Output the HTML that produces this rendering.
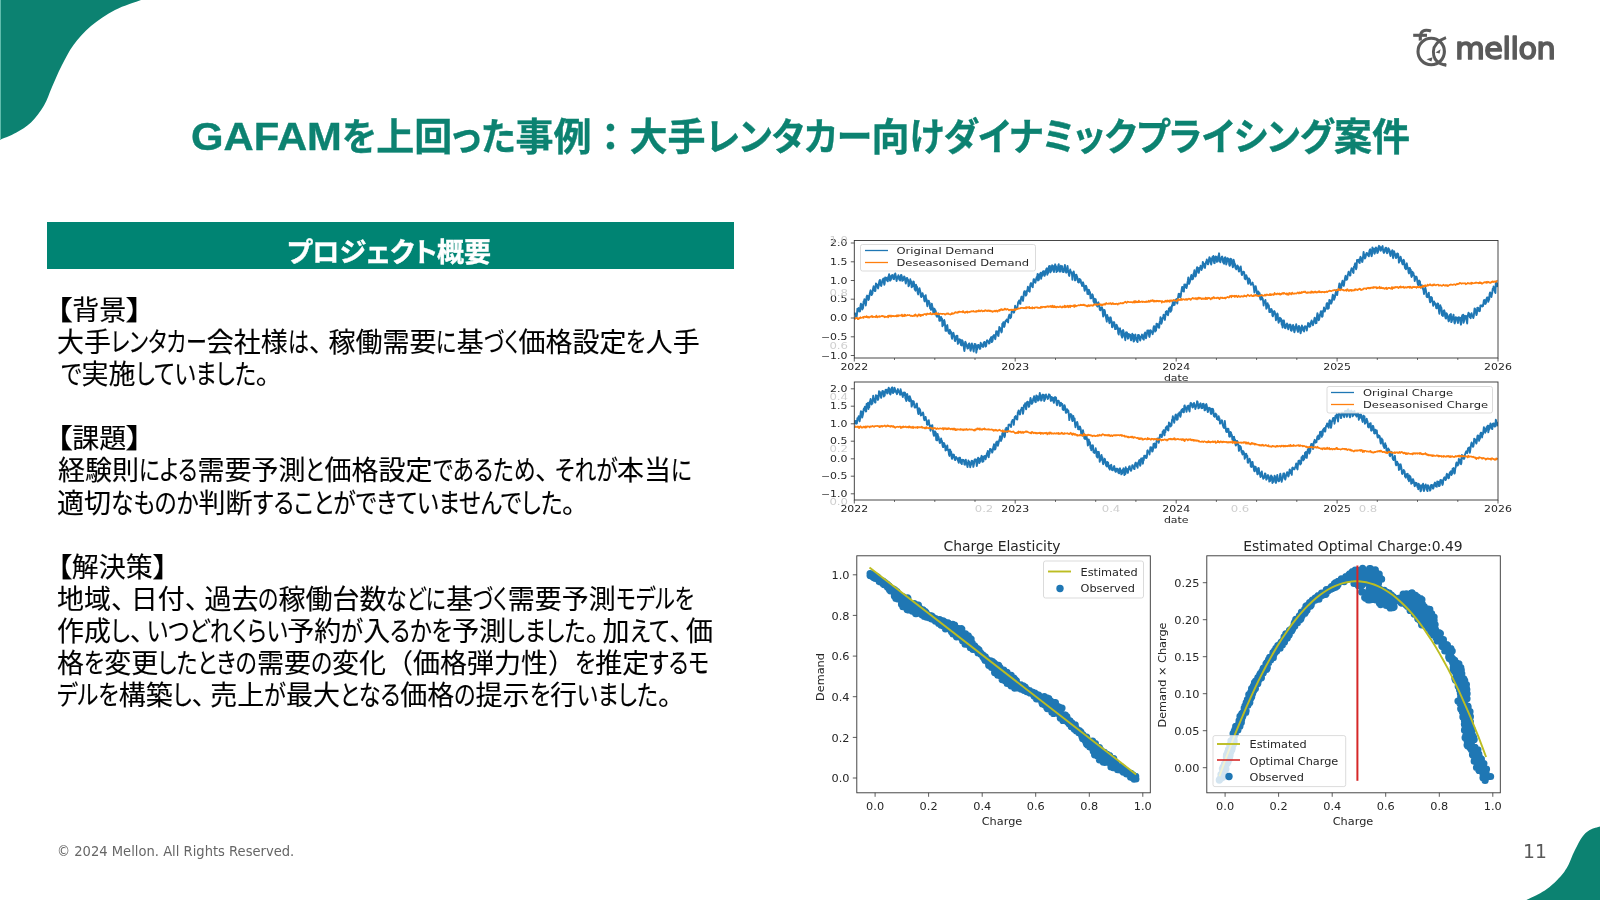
<!DOCTYPE html>
<html lang="ja">
<head>
<meta charset="utf-8">
<title>GAFAMを上回った事例</title>
<style>
html,body{margin:0;padding:0;}
body{width:1600px;height:900px;overflow:hidden;background:#fff;position:relative;
  font-family:"Liberation Sans","Noto Sans CJK JP",sans-serif;}
.abs{position:absolute;}
#root{position:absolute;left:0;top:0;width:1600px;height:900px;will-change:transform;}
#charts{filter:blur(0.35px);}
#bar{position:absolute;left:46.8px;top:221.5px;width:687px;height:47.7px;background:#008473;}
.ln{position:absolute;white-space:nowrap;font-size:26.7px;line-height:32px;height:32px;color:#000;
  font-family:"Liberation Sans","Noto Sans CJK JP",sans-serif;font-feature-settings:"palt" 1;}
#foot{position:absolute;left:56.8px;top:841.3px;font-family:"DejaVu Sans","Liberation Sans",sans-serif;
  font-size:14.3px;line-height:20px;color:#666;white-space:nowrap;transform:scaleX(0.917);transform-origin:0 50%;}
#pg{position:absolute;left:1522.6px;top:838.6px;font-family:"DejaVu Sans","Liberation Sans",sans-serif;
  font-size:19.9px;line-height:26px;color:#595959;white-space:nowrap;transform:scaleX(0.943);transform-origin:0 50%;}
svg text{font-family:"DejaVu Sans","Liberation Sans",sans-serif;}

.tl{position:absolute;white-space:nowrap;font-family:"Liberation Sans","Noto Sans CJK JP",sans-serif;}
.rA{font-feature-settings:"palt" 1;}
.rK,.rL,.rP{font-feature-settings:"palt" 0;}
.rb{display:inline-block;white-space:nowrap;}
.ri{display:inline-block;transform-origin:0 50%;white-space:nowrap;}

</style>
</head>
<body>
<div id="root">
<svg class="abs" style="left:0;top:0" width="160" height="150" viewBox="0 0 160 150">
  <path d="M0,0 H141 C136.7,1.7 123.3,5.7 115.0,10.0 C106.7,14.3 97.9,20.2 91.0,26.0 C84.1,31.8 78.4,38.3 73.5,45.0 C68.6,51.7 65.1,59.0 61.5,66.0 C57.9,73.0 54.9,80.4 52.0,87.0 C49.1,93.6 47.5,99.6 44.0,105.5 C40.5,111.4 35.7,118.0 31.0,122.5 C26.3,127.0 21.2,129.9 16.0,132.8 C10.8,135.7 2.7,138.6 0.0,139.8 Z" fill="#0c8271"/>
  <rect x="0" y="0" width="1" height="139.5" fill="#5fbcac"/>
</svg>
<svg class="abs" style="left:1500px;top:810px" width="100" height="90" viewBox="1500 810 100 90">
  <path d="M1600,900 V826.6 C1598.3,827.2 1592.7,828.4 1589.7,830.1 C1586.7,831.8 1584.2,834.4 1582.2,836.9 C1580.2,839.4 1579.0,842.2 1577.4,845.2 C1575.8,848.2 1574.1,851.6 1572.7,854.7 C1571.3,857.9 1570.3,861.2 1568.9,864.1 C1567.5,867.0 1566.2,869.2 1564.2,871.9 C1562.2,874.6 1559.5,877.6 1556.7,880.4 C1553.9,883.2 1550.4,886.4 1547.2,888.7 C1544.0,891.1 1541.2,892.6 1537.8,894.5 C1534.3,896.4 1528.4,899.1 1526.5,900.0 Z" fill="#0c8271"/>
</svg>

<!-- logo -->
<svg class="abs" style="left:1400px;top:20px" width="180" height="60" viewBox="1400 20 180 60">
  <g fill="none" stroke="#5a5a5a" stroke-width="3.1" stroke-linecap="butt">
    <circle cx="1431.2" cy="51.5" r="13.2"/>
    <path d="M1413.2,35.3 H1427"/>
    <path d="M1420.3,40.5 C1419.6,34 1421.5,30.4 1426,30.2 C1428,30.1 1429.5,30.4 1431,31"/>
    <path d="M1446,37.6 C1438,40.5 1433.6,45.5 1433.4,51.5 C1433.2,57 1436,61.5 1440.5,63.6 C1442.5,64.5 1444.5,65 1446.4,65.3" stroke-width="2.9"/>
  </g>
  <g fill="#5a5a5a">
    <path d="M1435.5,52.5 L1440.6,49.2 L1439.6,53.6 Z"/>
    <path d="M1426.5,59.3 L1432.6,57.3 L1431.4,61.4 Z"/>
    <path d="M1440.2,64.2 L1445.8,63 L1445.8,66.4 Z"/>
  </g>
  <text x="1455.3" y="58.7" font-family="'Liberation Sans',sans-serif" font-weight="400" font-size="30.3" fill="#5a5a5a" stroke="#5a5a5a" stroke-width="1.7" stroke-linejoin="round" stroke-linecap="round" textLength="100.5" lengthAdjust="spacing">mellon</text>
</svg>

<div id="bar"></div>

<div class="tl" id="title" aria-label="GAFAMを上回った事例：大手レンタカー向けダイナミックプライシング案件" style="left:191.0px;top:114.3px;font-size:38px;font-weight:700;color:#0c8271;line-height:46.0px;height:46.0px;-webkit-text-stroke:0.35px #0c8271;"><span class="rb" style="width:150.94px"><span class="rL ri" style="transform:scaleX(1.1000)">GAFAM</span></span><span class="rb" style="width:34.24px"><span class="rA ri" style="transform:scaleX(0.9394)">を</span></span><span class="rK">上回</span><span class="rb" style="width:63.37px"><span class="rA ri" style="transform:scaleX(0.9394)">った</span></span><span class="rK">事例：大手</span><span class="rb" style="width:165.92px"><span class="rA ri" style="transform:scaleX(0.9394)">レンタカー</span></span><span class="rK">向</span><span class="rb" style="width:424.63px"><span class="rA ri" style="transform:scaleX(0.9394)">けダイナミックプライシング</span></span><span class="rK">案件</span></div>
<div class="tl" id="barh" aria-label="プロジェクト概要" style="left:286.8px;top:236.6px;font-size:27px;font-weight:700;color:#fff;line-height:32.0px;height:32.0px;-webkit-text-stroke:0.4px #fff;"><span class="rb" style="width:150.15px"><span class="rA ri" style="transform:scaleX(1.0037)">プロジェクト</span></span><span class="rK">概要</span></div>
<div class="tl" id="ln0" aria-label="【背景】" style="left:55.8px;top:295.0px;font-size:27px;font-weight:400;color:#000;line-height:32.0px;height:32.0px;-webkit-text-stroke:0.13px #000;"><span class="rb" style="width:16.47px"><span class="rA ri" style="transform:scaleX(1.2204)">【</span></span><span class="rK">背景</span><span class="rb" style="width:16.47px"><span class="rA ri" style="transform:scaleX(1.2204)">】</span></span></div>
<div class="tl" id="ln1" aria-label="大手レンタカー会社様は、稼働需要に基づく価格設定を人手" style="left:57.0px;top:327.1px;font-size:27px;font-weight:400;color:#000;line-height:32.0px;height:32.0px;-webkit-text-stroke:0.13px #000;"><span class="rK">大手</span><span class="rb" style="width:95.76px"><span class="rA ri" style="transform:scaleX(0.7787)">レンタカー</span></span><span class="rK">会社様</span><span class="rb" style="width:21.03px"><span class="rA ri" style="transform:scaleX(0.7787)">は</span></span><span class="rb" style="width:19.71px"><span class="rP ri">、</span></span><span class="rK">稼働需要</span><span class="rb" style="width:20.26px"><span class="rA ri" style="transform:scaleX(0.7787)">に</span></span><span class="rK">基</span><span class="rb" style="width:34.74px"><span class="rA ri" style="transform:scaleX(0.7787)">づく</span></span><span class="rK">価格設定</span><span class="rb" style="width:19.41px"><span class="rA ri" style="transform:scaleX(0.7787)">を</span></span><span class="rK">人手</span></div>
<div class="tl" id="ln2" aria-label="で実施していました。" style="left:61.0px;top:359.2px;font-size:27px;font-weight:400;color:#000;line-height:32.0px;height:32.0px;-webkit-text-stroke:0.13px #000;"><span class="rb" style="width:20.55px"><span class="rA ri" style="transform:scaleX(0.8236)">で</span></span><span class="rK">実施</span><span class="rb" style="width:120.10px"><span class="rA ri" style="transform:scaleX(0.8236)">していました</span></span><span class="rb" style="width:16.20px"><span class="rP ri">。</span></span></div>
<div class="tl" id="ln3" aria-label="【課題】" style="left:55.8px;top:423.3px;font-size:27px;font-weight:400;color:#000;line-height:32.0px;height:32.0px;-webkit-text-stroke:0.13px #000;"><span class="rb" style="width:16.47px"><span class="rA ri" style="transform:scaleX(1.2204)">【</span></span><span class="rK">課題</span><span class="rb" style="width:16.47px"><span class="rA ri" style="transform:scaleX(1.2204)">】</span></span></div>
<div class="tl" id="ln4" aria-label="経験則による需要予測と価格設定であるため、それが本当に" style="left:58.0px;top:455.4px;font-size:27px;font-weight:400;color:#000;line-height:32.0px;height:32.0px;-webkit-text-stroke:0.13px #000;"><span class="rK">経験則</span><span class="rb" style="width:58.47px"><span class="rA ri" style="transform:scaleX(0.8013)">による</span></span><span class="rK">需要予測</span><span class="rb" style="width:19.07px"><span class="rA ri" style="transform:scaleX(0.8013)">と</span></span><span class="rK">価格設定</span><span class="rb" style="width:102.36px"><span class="rA ri" style="transform:scaleX(0.8013)">であるため</span></span><span class="rb" style="width:19.71px"><span class="rP ri">、</span></span><span class="rb" style="width:62.37px"><span class="rA ri" style="transform:scaleX(0.8013)">それが</span></span><span class="rK">本当</span><span class="rb" style="width:20.85px"><span class="rA ri" style="transform:scaleX(0.8013)">に</span></span></div>
<div class="tl" id="ln5" aria-label="適切なものか判断することができていませんでした。" style="left:57.0px;top:487.5px;font-size:27px;font-weight:400;color:#000;line-height:32.0px;height:32.0px;-webkit-text-stroke:0.13px #000;"><span class="rK">適切</span><span class="rb" style="width:87.50px"><span class="rA ri" style="transform:scaleX(0.8394)">なものか</span></span><span class="rK">判断</span><span class="rb" style="width:309.38px"><span class="rA ri" style="transform:scaleX(0.8394)">することができていませんでした</span></span><span class="rb" style="width:16.20px"><span class="rP ri">。</span></span></div>
<div class="tl" id="ln6" aria-label="【解決策】" style="left:56.8px;top:551.6px;font-size:27px;font-weight:400;color:#000;line-height:32.0px;height:32.0px;-webkit-text-stroke:0.13px #000;"><span class="rb" style="width:14.98px"><span class="rA ri" style="transform:scaleX(1.1093)">【</span></span><span class="rK">解決策</span><span class="rb" style="width:14.98px"><span class="rA ri" style="transform:scaleX(1.1093)">】</span></span></div>
<div class="tl" id="ln7" aria-label="地域、日付、過去の稼働台数などに基づく需要予測モデルを" style="left:57.0px;top:583.7px;font-size:27px;font-weight:400;color:#000;line-height:32.0px;height:32.0px;-webkit-text-stroke:0.13px #000;"><span class="rK">地域</span><span class="rb" style="width:19.71px"><span class="rP ri">、</span></span><span class="rK">日付</span><span class="rb" style="width:19.71px"><span class="rP ri">、</span></span><span class="rK">過去</span><span class="rb" style="width:20.09px"><span class="rA ri" style="transform:scaleX(0.7718)">の</span></span><span class="rK">稼働台数</span><span class="rb" style="width:59.85px"><span class="rA ri" style="transform:scaleX(0.7718)">などに</span></span><span class="rK">基</span><span class="rb" style="width:34.43px"><span class="rA ri" style="transform:scaleX(0.7718)">づく</span></span><span class="rK">需要予測</span><span class="rb" style="width:78.05px"><span class="rA ri" style="transform:scaleX(0.7718)">モデルを</span></span></div>
<div class="tl" id="ln8" aria-label="作成し、いつどれくらい予約が入るかを予測しました。加えて、価" style="left:57.0px;top:615.8px;font-size:27px;font-weight:400;color:#000;line-height:32.0px;height:32.0px;-webkit-text-stroke:0.13px #000;"><span class="rK">作成</span><span class="rb" style="width:18.86px"><span class="rA ri" style="transform:scaleX(0.8261)">し</span></span><span class="rb" style="width:16.74px"><span class="rP ri">、</span></span><span class="rb" style="width:140.72px"><span class="rA ri" style="transform:scaleX(0.8261)">いつどれくらい</span></span><span class="rK">予約</span><span class="rb" style="width:21.84px"><span class="rA ri" style="transform:scaleX(0.8261)">が</span></span><span class="rK">入</span><span class="rb" style="width:62.16px"><span class="rA ri" style="transform:scaleX(0.8261)">るかを</span></span><span class="rK">予測</span><span class="rb" style="width:79.55px"><span class="rA ri" style="transform:scaleX(0.8261)">しました</span></span><span class="rb" style="width:16.74px"><span class="rP ri">。</span></span><span class="rK">加</span><span class="rb" style="width:39.60px"><span class="rA ri" style="transform:scaleX(0.8261)">えて</span></span><span class="rb" style="width:16.74px"><span class="rP ri">、</span></span><span class="rK">価</span></div>
<div class="tl" id="ln9" aria-label="格を変更したときの需要の変化（価格弾力性）を推定するモ" style="left:57.0px;top:647.9px;font-size:27px;font-weight:400;color:#000;line-height:32.0px;height:32.0px;-webkit-text-stroke:0.13px #000;"><span class="rK">格</span><span class="rb" style="width:20.18px"><span class="rA ri" style="transform:scaleX(0.8096)">を</span></span><span class="rK">変更</span><span class="rb" style="width:98.77px"><span class="rA ri" style="transform:scaleX(0.8096)">したときの</span></span><span class="rK">需要</span><span class="rb" style="width:21.07px"><span class="rA ri" style="transform:scaleX(0.8096)">の</span></span><span class="rK">変化（価格弾力性）</span><span class="rb" style="width:20.18px"><span class="rA ri" style="transform:scaleX(0.8096)">を</span></span><span class="rK">推定</span><span class="rb" style="width:60.14px"><span class="rA ri" style="transform:scaleX(0.8096)">するモ</span></span></div>
<div class="tl" id="ln10" aria-label="デルを構築し、売上が最大となる価格の提示を行いました。" style="left:57.0px;top:680.0px;font-size:27px;font-weight:400;color:#000;line-height:32.0px;height:32.0px;-webkit-text-stroke:0.13px #000;"><span class="rb" style="width:61.77px"><span class="rA ri" style="transform:scaleX(0.8184)">デルを</span></span><span class="rK">構築</span><span class="rb" style="width:18.68px"><span class="rA ri" style="transform:scaleX(0.8184)">し</span></span><span class="rb" style="width:18.90px"><span class="rP ri">、</span></span><span class="rK">売上</span><span class="rb" style="width:21.64px"><span class="rA ri" style="transform:scaleX(0.8184)">が</span></span><span class="rK">最大</span><span class="rb" style="width:60.31px"><span class="rA ri" style="transform:scaleX(0.8184)">となる</span></span><span class="rK">価格</span><span class="rb" style="width:21.30px"><span class="rA ri" style="transform:scaleX(0.8184)">の</span></span><span class="rK">提示</span><span class="rb" style="width:20.40px"><span class="rA ri" style="transform:scaleX(0.8184)">を</span></span><span class="rK">行</span><span class="rb" style="width:81.00px"><span class="rA ri" style="transform:scaleX(0.8184)">いました</span></span><span class="rb" style="width:18.90px"><span class="rP ri">。</span></span></div>

<svg id="charts" class="abs" style="left:800px;top:220px" width="800" height="620" viewBox="800 220 800 620">
<clipPath id="clipDemand"><rect x="854.3" y="240.5" width="643.7" height="117.5"/></clipPath>
<g clip-path="url(#clipDemand)" fill="none" stroke-linejoin="round">
<path d="M854.3,314.9 854.7,313.3 855.2,313.4 855.6,314.2 856.1,317.1 856.5,317.3 856.9,314.9 857.4,308.7 857.8,309.5 858.3,309.2 858.7,308.1 859.1,311.5 859.6,311.4 860,311.4 860.5,305.7 860.9,303.6 861.3,305.4 861.8,304.6 862.2,309.5 862.7,308.5 863.1,307.9 863.6,301.4 864,301.4 864.4,299.2 864.9,299.5 865.3,303.2 865.8,305.5 866.2,302.1 866.6,296.9 867.1,295.6 867.5,297 868,296 868.4,300 868.8,299.5 869.3,296.3 869.7,293.8 870.2,291.7 870.6,290.3 871,292.2 871.5,295.1 871.9,294.6 872.4,293.6 872.8,290.5 873.2,287.9 873.7,286.1 874.1,289.7 874.6,290.5 875,291.1 875.4,291 875.9,283.5 876.3,283.8 876.8,285.8 877.2,284.7 877.7,287.7 878.1,288.4 878.5,286.5 879,282.8 879.4,281 879.9,279.9 880.3,282.8 880.7,285.4 881.2,286 881.6,284.5 882.1,281.6 882.5,280 882.9,279.4 883.4,278.6 883.8,282.1 884.3,284.8 884.7,283.4 885.1,277.5 885.6,279.6 886,277.8 886.5,277.9 886.9,280.2 887.3,280.8 887.8,281.3 888.2,277 888.7,276.1 889.1,274.1 889.5,277 890,280.7 890.4,280 890.9,279.9 891.3,275.8 891.8,276.1 892.2,275 892.6,276.2 893.1,278.3 893.5,279 894,279.2 894.4,274.4 894.8,274.9 895.3,273.4 895.7,275.4 896.2,278.8 896.6,281.1 897,278.8 897.5,277 897.9,276.9 898.4,275.2 898.8,276.7 899.2,279.6 899.7,277.6 900.1,280.6 900.6,276.4 901,275 901.4,275 901.9,276.7 902.3,280.9 902.8,280.3 903.2,280.1 903.6,278 904.1,276.5 904.5,276.8 905,279 905.4,281.7 905.8,283.5 906.3,281.1 906.7,278.2 907.2,278 907.6,279.2 908.1,279.8 908.5,286.2 908.9,285.7 909.4,283.8 909.8,282.9 910.3,279.3 910.7,282.7 911.1,281.1 911.6,287.2 912,286 912.5,286.6 912.9,284.8 913.3,281.4 913.8,281.8 914.2,284.7 914.7,289.3 915.1,289.9 915.5,290.7 916,284.8 916.4,286.5 916.9,286.5 917.3,288.6 917.7,292.9 918.2,294.4 918.6,291.5 919.1,289.5 919.5,288.1 919.9,289.9 920.4,292 920.8,296.1 921.3,297.1 921.7,296.5 922.2,293.4 922.6,293.2 923,295.1 923.5,295.8 923.9,297.6 924.4,301 924.8,301.5 925.2,296.4 925.7,295.2 926.1,299.2 926.6,299.1 927,304.2 927.4,306.3 927.9,303.6 928.3,300.9 928.8,300.8 929.2,302.5 929.6,302.6 930.1,308.3 930.5,308.7 931,309.8 931.4,306.5 931.8,303.6 932.3,306.5 932.7,307 933.2,312 933.6,313.3 934,313.5 934.5,308.7 934.9,309.8 935.4,310.4 935.8,311.6 936.2,314.9 936.7,316.4 937.1,316.8 937.6,314.4 938,315.3 938.5,313.5 938.9,314.9 939.3,320.7 939.8,320.8 940.2,320.6 940.7,317.1 941.1,317 941.5,319.3 942,318.5 942.4,326.2 942.9,324.6 943.3,325.1 943.7,321.2 944.2,320 944.6,321.2 945.1,325.5 945.5,330.7 945.9,328.7 946.4,330.8 946.8,326.2 947.3,325.1 947.7,328.6 948.1,330.5 948.6,332.4 949,333.4 949.5,333.7 949.9,329.8 950.3,330.7 950.8,332.1 951.2,331.9 951.7,337.3 952.1,338.8 952.6,336.3 953,333.4 953.4,332.7 953.9,334.9 954.3,335.8 954.8,340.6 955.2,341.1 955.6,339.8 956.1,337.3 956.5,335.8 957,336.4 957.4,335.7 957.8,343.9 958.3,342 958.7,342.9 959.2,339.1 959.6,340.5 960,339.9 960.5,339.7 960.9,344.9 961.4,345.3 961.8,345.5 962.2,340.1 962.7,341.1 963.1,344 963.6,343.3 964,349 964.4,351 964.9,347.6 965.3,341.7 965.8,342.7 966.2,344.5 966.7,345.2 967.1,347.1 967.5,348.6 968,348.3 968.4,344.5 968.9,344 969.3,343.4 969.7,344.6 970.2,349.1 970.6,350.8 971.1,348.7 971.5,346 971.9,343.5 972.4,346.4 972.8,345.9 973.3,349.8 973.7,351.6 974.1,347.6 974.6,343.9 975,345.4 975.5,344.2 975.9,345.4 976.3,352.7 976.8,349.7 977.2,349.4 977.7,345.1 978.1,345.7 978.5,344.9 979,345.5 979.4,347.8 979.9,348.9 980.3,348.6 980.7,342.7 981.2,344.2 981.6,344 982.1,346.3 982.5,346.3 983,347 983.4,346.3 983.8,342.3 984.3,342.1 984.7,341.9 985.2,342.9 985.6,346.6 986,346.3 986.5,343.8 986.9,340.5 987.4,340.3 987.8,340.8 988.2,341.3 988.7,342.4 989.1,343.6 989.6,343.2 990,339.2 990.4,339.1 990.9,337.7 991.3,337 991.8,342.1 992.2,341.7 992.6,340.7 993.1,335.9 993.5,336.8 994,335 994.4,336 994.8,337.6 995.3,339.2 995.7,336.7 996.2,331.1 996.6,332 997.1,332 997.5,331.4 997.9,335.1 998.4,336 998.8,333.3 999.3,326.9 999.7,328.3 1000.1,327.9 1000.6,329.1 1001,331 1001.5,332.4 1001.9,331.2 1002.3,323.8 1002.8,325.1 1003.2,322.4 1003.7,322.2 1004.1,327 1004.5,326.3 1005,323.6 1005.4,321.3 1005.9,320.5 1006.3,320.9 1006.7,319.5 1007.2,321.3 1007.6,321.5 1008.1,322.4 1008.5,317.6 1008.9,316 1009.4,314.6 1009.8,315.3 1010.3,318.2 1010.7,317.7 1011.1,317.2 1011.6,312.2 1012,310.6 1012.5,310.5 1012.9,309.9 1013.4,311.7 1013.8,312.7 1014.2,312.1 1014.7,309.4 1015.1,305.8 1015.6,307.9 1016,307.4 1016.4,308.2 1016.9,307.9 1017.3,307.7 1017.8,304.7 1018.2,302 1018.6,301.8 1019.1,300.5 1019.5,302 1020,303.8 1020.4,303.8 1020.8,299.5 1021.3,297 1021.7,296.6 1022.2,297.9 1022.6,299.8 1023,300.8 1023.5,297.1 1023.9,292.5 1024.4,291.2 1024.8,292.5 1025.2,291.5 1025.7,295.6 1026.1,295.5 1026.6,294.3 1027,290.7 1027.5,289.7 1027.9,286.7 1028.3,288.1 1028.8,291 1029.2,289.8 1029.7,291.7 1030.1,286 1030.5,283.8 1031,283.1 1031.4,284.2 1031.9,286.1 1032.3,286.7 1032.7,287.3 1033.2,282.3 1033.6,279.3 1034.1,279.3 1034.5,282.2 1034.9,282.1 1035.4,282.7 1035.8,280.8 1036.3,278.2 1036.7,277 1037.1,277.7 1037.6,273.9 1038,280.5 1038.5,278.3 1038.9,279.9 1039.3,274.5 1039.8,275.5 1040.2,273.8 1040.7,272.7 1041.1,278.8 1041.6,276.1 1042,276 1042.4,273.1 1042.9,271.6 1043.3,271.3 1043.8,271.3 1044.2,275.6 1044.6,275.8 1045.1,274.4 1045.5,270.9 1046,270.3 1046.4,268.8 1046.8,268.3 1047.3,274.7 1047.7,273 1048.2,273 1048.6,269 1049,266.2 1049.5,267.7 1049.9,266 1050.4,272.4 1050.8,271.2 1051.2,271.2 1051.7,267.6 1052.1,265.3 1052.6,266.2 1053,266 1053.4,270.6 1053.9,272 1054.3,270.3 1054.8,266 1055.2,264.3 1055.6,266.5 1056.1,266.3 1056.5,272.1 1057,269.7 1057.4,271.1 1057.9,267.9 1058.3,265.3 1058.7,264.2 1059.2,268 1059.6,271.6 1060.1,271.5 1060.5,271.5 1060.9,265.8 1061.4,266.6 1061.8,266.8 1062.3,266.2 1062.7,271.9 1063.1,270.9 1063.6,272.1 1064,268.5 1064.5,268.7 1064.9,264.9 1065.3,268.4 1065.8,271.9 1066.2,272.7 1066.7,272.2 1067.1,268.5 1067.5,266 1068,269.7 1068.4,271.4 1068.9,275 1069.3,275.9 1069.7,273.4 1070.2,269.5 1070.6,271.2 1071.1,272.2 1071.5,272.1 1072,274.5 1072.4,279.8 1072.8,275.9 1073.3,274 1073.7,271.4 1074.2,274.3 1074.6,274.6 1075,280.4 1075.5,280.4 1075.9,277.7 1076.4,274.7 1076.8,275.9 1077.2,277 1077.7,279.4 1078.1,282.2 1078.6,282.5 1079,282.4 1079.4,278.9 1079.9,279.9 1080.3,279.4 1080.8,280.6 1081.2,283.6 1081.6,283.7 1082.1,286 1082.5,283.1 1083,282.3 1083.4,283.6 1083.8,285.1 1084.3,288.8 1084.7,290.7 1085.2,288.9 1085.6,286.2 1086,285.7 1086.5,287 1086.9,288.9 1087.4,293.8 1087.8,293.8 1088.3,294.2 1088.7,289.8 1089.1,290.1 1089.6,292.4 1090,292.1 1090.5,298.3 1090.9,298.3 1091.3,298.1 1091.8,296.6 1092.2,294.2 1092.7,294.9 1093.1,296.6 1093.5,301.5 1094,302.3 1094.4,303.1 1094.9,298.8 1095.3,299.2 1095.7,299.2 1096.2,302.1 1096.6,305.1 1097.1,306.1 1097.5,306.5 1097.9,303.4 1098.4,302.3 1098.8,305.5 1099.3,304.6 1099.7,309.4 1100.1,310.2 1100.6,310.2 1101,307.9 1101.5,307.5 1101.9,307.2 1102.4,308.8 1102.8,313.7 1103.2,316.5 1103.7,314.2 1104.1,310 1104.6,310.2 1105,311.8 1105.4,315.2 1105.9,317 1106.3,319 1106.8,321.7 1107.2,315 1107.6,317 1108.1,317.5 1108.5,318.1 1109,320.5 1109.4,323.2 1109.8,322.5 1110.3,317.3 1110.7,317.4 1111.2,320 1111.6,321.4 1112,327.1 1112.5,327.2 1112.9,325.9 1113.4,322.3 1113.8,322.6 1114.2,322.2 1114.7,325.4 1115.1,329.1 1115.6,328.9 1116,329 1116.5,324.8 1116.9,325.4 1117.3,326.8 1117.8,327.3 1118.2,333.2 1118.7,334.5 1119.1,331.9 1119.5,328.9 1120,328.3 1120.4,331.1 1120.9,330.8 1121.3,335.4 1121.7,336.2 1122.2,337.6 1122.6,331.7 1123.1,330 1123.5,331.1 1123.9,333.3 1124.4,336.9 1124.8,336.5 1125.3,340.2 1125.7,333.4 1126.1,332.3 1126.6,332.6 1127,332.5 1127.5,337.3 1127.9,338.7 1128.3,338.3 1128.8,333.9 1129.2,335 1129.7,334.7 1130.1,334.6 1130.5,337.6 1131,340.3 1131.4,339.8 1131.9,335.6 1132.3,333.8 1132.8,335.6 1133.2,334.8 1133.6,341.5 1134.1,341 1134.5,340.5 1135,335.4 1135.4,334.5 1135.8,337.5 1136.3,337.7 1136.7,340.2 1137.2,341.6 1137.6,342 1138,335 1138.5,335 1138.9,335 1139.4,336.9 1139.8,339.1 1140.2,340.6 1140.7,338.5 1141.1,336.6 1141.6,335.8 1142,334.6 1142.4,336.3 1142.9,338.5 1143.3,339.1 1143.8,339.7 1144.2,334.3 1144.6,334 1145.1,332.5 1145.5,334.8 1146,338.3 1146.4,336.5 1146.9,334.5 1147.3,330.5 1147.7,331.8 1148.2,331.5 1148.6,330.5 1149.1,336 1149.5,336.9 1149.9,334.8 1150.4,330.1 1150.8,330.5 1151.3,331.3 1151.7,331.5 1152.1,332.7 1152.6,334.2 1153,332.6 1153.5,327.7 1153.9,326.2 1154.3,327 1154.8,326.5 1155.2,331.6 1155.7,330.8 1156.1,330.5 1156.5,323.6 1157,323.8 1157.4,324.3 1157.9,324.2 1158.3,327.5 1158.7,326.2 1159.2,327.8 1159.6,322.6 1160.1,320.7 1160.5,317.1 1160.9,319.1 1161.4,323.7 1161.8,322.5 1162.3,319.9 1162.7,317.9 1163.2,316.8 1163.6,314.7 1164,315.7 1164.5,318.9 1164.9,319.9 1165.4,316 1165.8,311.6 1166.2,311.7 1166.7,311.1 1167.1,314.3 1167.6,314.7 1168,315.2 1168.4,313.4 1168.9,308.4 1169.3,308.3 1169.8,309.4 1170.2,307.2 1170.6,311.8 1171.1,310.9 1171.5,310.1 1172,305.1 1172.4,306 1172.8,301.6 1173.3,302.8 1173.7,305.1 1174.2,303.8 1174.6,304.8 1175,302.1 1175.5,299.8 1175.9,299.6 1176.4,299 1176.8,301.6 1177.3,303.6 1177.7,299.7 1178.1,297.1 1178.6,293.8 1179,293.7 1179.5,294.1 1179.9,297.2 1180.3,297.3 1180.8,296.1 1181.2,292.6 1181.7,289.5 1182.1,286.9 1182.5,286.9 1183,291 1183.4,291.3 1183.9,291.6 1184.3,284.5 1184.7,285 1185.2,284.5 1185.6,284.9 1186.1,287.8 1186.5,288.1 1186.9,286.5 1187.4,282.9 1187.8,280.9 1188.3,277.5 1188.7,280.3 1189.1,283.9 1189.6,282.7 1190,281.4 1190.5,278.8 1190.9,276.5 1191.4,274.9 1191.8,275.8 1192.2,279.4 1192.7,277.5 1193.1,278.9 1193.6,273.4 1194,273 1194.4,270.3 1194.9,274.5 1195.3,276.5 1195.8,276.1 1196.2,273.7 1196.6,269.2 1197.1,267.2 1197.5,270.2 1198,267.9 1198.4,272.6 1198.8,272.8 1199.3,270.5 1199.7,267.6 1200.2,267.9 1200.6,265.7 1201,267.3 1201.5,270 1201.9,268.7 1202.4,267.8 1202.8,261.9 1203.2,263 1203.7,264.3 1204.1,263.8 1204.6,267.7 1205,267.9 1205.4,265.2 1205.9,262 1206.3,262.6 1206.8,259.5 1207.2,260.9 1207.7,264.1 1208.1,264.3 1208.5,262.9 1209,259.3 1209.4,257.1 1209.9,258 1210.3,258.6 1210.7,262.3 1211.2,264.5 1211.6,262.3 1212.1,258.2 1212.5,256.9 1212.9,258.7 1213.4,256 1213.8,261.5 1214.3,263.2 1214.7,263.1 1215.1,257.3 1215.6,256.4 1216,257.2 1216.5,257 1216.9,261.8 1217.3,260.6 1217.8,261.5 1218.2,256.7 1218.7,254.9 1219.1,253.3 1219.5,258.1 1220,261.5 1220.4,262.2 1220.9,259.9 1221.3,258.1 1221.8,256.8 1222.2,256.5 1222.6,258.5 1223.1,262.5 1223.5,262.4 1224,263.8 1224.4,259.1 1224.8,257.5 1225.3,257.2 1225.7,258.5 1226.2,264.5 1226.6,263.4 1227,261.7 1227.5,258.1 1227.9,258.4 1228.4,259.7 1228.8,259 1229.2,264.6 1229.7,265.8 1230.1,265.1 1230.6,258.8 1231,259.8 1231.4,259.2 1231.9,262.2 1232.3,264.9 1232.8,267.2 1233.2,266.5 1233.6,259.8 1234.1,261.5 1234.5,263.4 1235,264.1 1235.4,268 1235.8,267.7 1236.3,269.4 1236.7,267.2 1237.2,265.4 1237.6,265.6 1238.1,266.7 1238.5,269.8 1238.9,271.6 1239.4,271 1239.8,269.5 1240.3,267.2 1240.7,266.4 1241.1,269.2 1241.6,274.2 1242,275.1 1242.5,273.2 1242.9,272.7 1243.3,271.7 1243.8,271.7 1244.2,272.7 1244.7,278.6 1245.1,278.5 1245.5,279.2 1246,275.2 1246.4,275.4 1246.9,277.3 1247.3,277.4 1247.7,280.9 1248.2,283.8 1248.6,283 1249.1,278.5 1249.5,280.5 1249.9,279.8 1250.4,282.6 1250.8,284.7 1251.3,284.2 1251.7,284.6 1252.2,283.7 1252.6,282.6 1253,284 1253.5,285.5 1253.9,288.4 1254.4,292.5 1254.8,289.9 1255.2,287.7 1255.7,286.1 1256.1,288.2 1256.6,290.6 1257,294.2 1257.4,294.5 1257.9,295.4 1258.3,291.4 1258.8,292.6 1259.2,295.2 1259.6,293.2 1260.1,298 1260.5,299.5 1261,299.6 1261.4,295.1 1261.8,296.8 1262.3,297.9 1262.7,298.7 1263.2,301.7 1263.6,305.5 1264,302.6 1264.5,301.2 1264.9,301.8 1265.4,299.9 1265.8,302.8 1266.3,308.7 1266.7,308.5 1267.1,307.1 1267.6,303.3 1268,305.1 1268.5,304.9 1268.9,305.9 1269.3,312 1269.8,311.7 1270.2,312.1 1270.7,309.2 1271.1,309 1271.5,309.1 1272,310.5 1272.4,315.7 1272.9,316.3 1273.3,314.5 1273.7,312 1274.2,311.1 1274.6,311.4 1275.1,313.4 1275.5,316 1275.9,320.2 1276.4,318.3 1276.8,315.9 1277.3,313.4 1277.7,314.1 1278.1,319.5 1278.6,322.8 1279,321.6 1279.5,321.4 1279.9,317.8 1280.3,318.5 1280.8,318.4 1281.2,319.4 1281.7,324.6 1282.1,323.9 1282.6,327.5 1283,320.5 1283.4,322.1 1283.9,320.4 1284.3,322.8 1284.8,327.8 1285.2,327 1285.6,328.2 1286.1,324.4 1286.5,324.8 1287,323.5 1287.4,324 1287.8,327.6 1288.3,329.4 1288.7,327.7 1289.2,325 1289.6,324.8 1290,324.4 1290.5,324.8 1290.9,330.5 1291.4,330.8 1291.8,330.3 1292.2,326.2 1292.7,326.8 1293.1,324.9 1293.6,327.4 1294,330.5 1294.4,332.3 1294.9,330.5 1295.3,326.5 1295.8,326.8 1296.2,324.3 1296.7,327 1297.1,329.4 1297.5,330.6 1298,331.9 1298.4,327.5 1298.9,325.9 1299.3,326.5 1299.7,327.2 1300.2,331.5 1300.6,333.4 1301.1,331 1301.5,329.1 1301.9,325.5 1302.4,326.8 1302.8,327.4 1303.3,330.7 1303.7,330.3 1304.1,331.5 1304.6,327.6 1305,326.1 1305.5,327.2 1305.9,326.6 1306.3,327.5 1306.8,330.5 1307.2,327.8 1307.7,325.8 1308.1,323 1308.5,323.6 1309,323.8 1309.4,326.8 1309.9,325.5 1310.3,326.4 1310.7,322.1 1311.2,322.4 1311.6,320.5 1312.1,321.9 1312.5,324.3 1313,325.2 1313.4,322.3 1313.8,322 1314.3,319.1 1314.7,317.6 1315.2,319.3 1315.6,323.4 1316,322.6 1316.5,322.9 1316.9,316.7 1317.4,313.1 1317.8,314.2 1318.2,317.1 1318.7,320.4 1319.1,319.6 1319.6,317 1320,314.5 1320.4,313.2 1320.9,311.1 1321.3,311.4 1321.8,316.3 1322.2,316.8 1322.6,316.2 1323.1,310.7 1323.5,311.2 1324,307.5 1324.4,309.3 1324.8,311.5 1325.3,309.6 1325.7,309.2 1326.2,307.2 1326.6,303.7 1327.1,303 1327.5,305.3 1327.9,308.9 1328.4,307.6 1328.8,308.1 1329.3,300 1329.7,303.1 1330.1,301.2 1330.6,300.4 1331,303.7 1331.5,302.9 1331.9,301.6 1332.3,297.5 1332.8,294.7 1333.2,297.9 1333.7,295.6 1334.1,299.8 1334.5,298.4 1335,297.1 1335.4,293.7 1335.9,292.1 1336.3,290 1336.7,290.6 1337.2,295.1 1337.6,291.6 1338.1,290.1 1338.5,289.6 1338.9,286.4 1339.4,283.4 1339.8,285.4 1340.3,289.4 1340.7,289.5 1341.2,288.6 1341.6,283.5 1342,282.7 1342.5,280.7 1342.9,282.1 1343.4,285.5 1343.8,285.9 1344.2,283.5 1344.7,279.7 1345.1,277.6 1345.6,275.8 1346,276.7 1346.4,279.9 1346.9,279.7 1347.3,278.8 1347.8,274.3 1348.2,273.3 1348.6,271.6 1349.1,273.9 1349.5,274.5 1350,275.6 1350.4,275.4 1350.8,270.4 1351.3,269.4 1351.7,268.1 1352.2,269.3 1352.6,270.6 1353,272.4 1353.5,273 1353.9,266.6 1354.4,266.9 1354.8,264.3 1355.2,263.3 1355.7,267.2 1356.1,269.2 1356.6,267.5 1357,260 1357.5,260.6 1357.9,260.6 1358.3,259.7 1358.8,261.6 1359.2,262.7 1359.7,263 1360.1,258.2 1360.5,256.8 1361,257.9 1361.4,258.8 1361.9,261.1 1362.3,262 1362.7,260.1 1363.2,255.4 1363.6,251.9 1364.1,255.3 1364.5,254.9 1364.9,258.5 1365.4,257.7 1365.8,256.2 1366.3,253.5 1366.7,252.9 1367.1,253.7 1367.6,253.4 1368,255.4 1368.5,255.9 1368.9,256.3 1369.3,251.2 1369.8,249.9 1370.2,249.3 1370.7,251.1 1371.1,254.4 1371.6,256.2 1372,254.7 1372.4,247.4 1372.9,250.8 1373.3,248.7 1373.8,248.7 1374.2,253.2 1374.6,253.8 1375.1,252.3 1375.5,248.1 1376,247.4 1376.4,249.5 1376.8,248.3 1377.3,253 1377.7,252.8 1378.2,251.3 1378.6,246.8 1379,245.8 1379.5,247.5 1379.9,246.7 1380.4,250.4 1380.8,250.7 1381.2,249.9 1381.7,247.6 1382.1,247.1 1382.6,246.1 1383,249.5 1383.4,251.8 1383.9,252.9 1384.3,252.3 1384.8,249.9 1385.2,248.4 1385.6,247.7 1386.1,247.7 1386.5,251.7 1387,253.3 1387.4,253 1387.9,249.9 1388.3,248.1 1388.7,249.2 1389.2,249.2 1389.6,252.1 1390.1,254.6 1390.5,256 1390.9,251.4 1391.4,251.8 1391.8,251.9 1392.3,250.2 1392.7,255.7 1393.1,258.2 1393.6,255.5 1394,251.1 1394.5,252.6 1394.9,253.5 1395.3,254.2 1395.8,257.9 1396.2,258.1 1396.7,257.3 1397.1,253.6 1397.5,253.4 1398,253.8 1398.4,255.7 1398.9,262.6 1399.3,261.7 1399.7,261.1 1400.2,258.3 1400.6,256.6 1401.1,258.7 1401.5,260.6 1402,262.4 1402.4,264 1402.8,264.4 1403.3,260 1403.7,259.8 1404.2,261.2 1404.6,265.7 1405,268.2 1405.5,268.7 1405.9,269.3 1406.4,264.4 1406.8,263.3 1407.2,265.8 1407.7,267.9 1408.1,268.9 1408.6,272.5 1409,273.4 1409.4,268.2 1409.9,268 1410.3,270 1410.8,269.7 1411.2,275.7 1411.6,277 1412.1,275.8 1412.5,271.7 1413,273.3 1413.4,272.9 1413.8,274.8 1414.3,276.1 1414.7,281 1415.2,278.7 1415.6,276.8 1416.1,276.9 1416.5,276.7 1416.9,278 1417.4,282.1 1417.8,284.1 1418.3,285.2 1418.7,281.7 1419.1,280.5 1419.6,281.2 1420,281.7 1420.5,287.4 1420.9,287.6 1421.3,287.1 1421.8,285.2 1422.2,287.1 1422.7,287.5 1423.1,289.2 1423.5,290.4 1424,294 1424.4,291.7 1424.9,289 1425.3,287.7 1425.7,289.3 1426.2,291.9 1426.6,296.6 1427.1,297.2 1427.5,297.1 1427.9,294.4 1428.4,293.9 1428.8,292.7 1429.3,297.8 1429.7,300.2 1430.1,302.3 1430.6,301.1 1431,296.9 1431.5,297.9 1431.9,297.6 1432.4,301.6 1432.8,303.1 1433.2,305.8 1433.7,304.5 1434.1,301.4 1434.6,304.4 1435,303.1 1435.4,303.3 1435.9,306.2 1436.3,308.4 1436.8,308.4 1437.2,306.7 1437.6,303.4 1438.1,303.6 1438.5,306.8 1439,311.5 1439.4,313.8 1439.8,310.9 1440.3,305.2 1440.7,307.3 1441.2,307.2 1441.6,309.2 1442,315.3 1442.5,313.4 1442.9,316.1 1443.4,311.3 1443.8,310.5 1444.2,310.3 1444.7,312 1445.1,316.3 1445.6,318.2 1446,318.6 1446.5,313.3 1446.9,313.9 1447.3,315 1447.8,316 1448.2,319.4 1448.7,321.4 1449.1,320.6 1449.5,317.1 1450,314.7 1450.4,314.8 1450.9,314 1451.3,322.1 1451.7,321.6 1452.2,319.5 1452.6,316.9 1453.1,316.5 1453.5,314.6 1453.9,317.8 1454.4,322.8 1454.8,323.4 1455.3,321.1 1455.7,317.1 1456.1,318.5 1456.6,318.3 1457,317.5 1457.5,321.4 1457.9,323.1 1458.3,321.2 1458.8,317.2 1459.2,319.2 1459.7,317.7 1460.1,317.7 1460.5,322.8 1461,324.7 1461.4,322.1 1461.9,316.8 1462.3,315.2 1462.8,319.5 1463.2,314.8 1463.6,322.9 1464.1,320.7 1464.5,319.7 1465,315.8 1465.4,316 1465.8,317.4 1466.3,316.1 1466.7,321.4 1467.2,323.5 1467.6,316.7 1468,314.8 1468.5,312.7 1468.9,315.7 1469.4,313.6 1469.8,317.2 1470.2,317.2 1470.7,318.2 1471.1,315.2 1471.6,313.1 1472,315.3 1472.4,315.2 1472.9,316.8 1473.3,318 1473.8,316.2 1474.2,311.7 1474.6,308.4 1475.1,308.9 1475.5,310.8 1476,313 1476.4,315.1 1476.9,313.7 1477.3,307.8 1477.7,309.2 1478.2,307.8 1478.6,309.4 1479.1,311.3 1479.5,309.4 1479.9,311 1480.4,305.4 1480.8,305.6 1481.3,305.5 1481.7,305.9 1482.1,306.4 1482.6,305.1 1483,306.2 1483.5,302.9 1483.9,300.2 1484.3,301 1484.8,300 1485.2,304 1485.7,303.7 1486.1,302.2 1486.5,298.9 1487,297.5 1487.4,298.6 1487.9,297.4 1488.3,301.9 1488.7,300.1 1489.2,299.8 1489.6,294 1490.1,292.4 1490.5,294 1491,293.5 1491.4,297 1491.8,294.8 1492.3,292.5 1492.7,288.8 1493.2,288.9 1493.6,286.4 1494,289.9 1494.5,289.8 1494.9,291.8 1495.4,293 1495.8,282.2 1496.2,282.2 1496.7,284.6 1497.1,283.4 1497.6,287.1" stroke="#1f77b4" stroke-width="1.9"/>
<path d="M854.3,319.5 854.7,318.2 855.2,318.9 855.6,318.3 856.1,318.3 856.5,317.6 856.9,318.1 857.4,318.1 857.8,319.2 858.3,318.4 858.7,319.1 859.1,318.1 859.6,317.9 860,318.2 860.5,317.2 860.9,318 861.3,317.8 861.8,317.8 862.2,317.8 862.7,317.1 863.1,316.8 863.6,318 864,316.9 864.4,316.8 864.9,316.6 865.3,316.7 865.8,317.3 866.2,317.3 866.6,316.1 867.1,316.8 867.5,317.5 868,316.7 868.4,317 868.8,317.6 869.3,317.7 869.7,317.4 870.2,316.5 870.6,316.6 871,316.8 871.5,316.3 871.9,315.9 872.4,317.2 872.8,316.4 873.2,316.8 873.7,317 874.1,316.7 874.6,316.7 875,316.7 875.4,317.2 875.9,316.8 876.3,315.6 876.8,317.1 877.2,317.4 877.7,316.5 878.1,316.5 878.5,316.5 879,317.1 879.4,316 879.9,316.8 880.3,316.8 880.7,316.6 881.2,316.2 881.6,316 882.1,315.8 882.5,316.3 882.9,315.9 883.4,316.3 883.8,316.2 884.3,317.2 884.7,317.4 885.1,316.4 885.6,317 886,316.7 886.5,316.9 886.9,316.8 887.3,316.8 887.8,315.8 888.2,317.5 888.7,316.2 889.1,315.4 889.5,316.3 890,316.4 890.4,316 890.9,315.4 891.3,316.8 891.8,316.2 892.2,316.3 892.6,315.8 893.1,316.1 893.5,315.8 894,316.3 894.4,316 894.8,316 895.3,316.1 895.7,315.7 896.2,315.8 896.6,316.5 897,315.1 897.5,315.8 897.9,316.4 898.4,315.2 898.8,316 899.2,315.5 899.7,315.4 900.1,315.2 900.6,315.4 901,315.7 901.4,315.3 901.9,314.5 902.3,316.4 902.8,315.3 903.2,315.5 903.6,316.1 904.1,316.2 904.5,314.5 905,315.9 905.4,314.8 905.8,315.5 906.3,315.6 906.7,315.5 907.2,315.2 907.6,314.9 908.1,315.3 908.5,315.3 908.9,315.3 909.4,314.9 909.8,315.1 910.3,315.9 910.7,316 911.1,315.6 911.6,315.8 912,316 912.5,316.3 912.9,316 913.3,315.8 913.8,315.5 914.2,315.9 914.7,314.9 915.1,315.9 915.5,314.3 916,315.1 916.4,315.3 916.9,315.7 917.3,316.6 917.7,315.2 918.2,315.2 918.6,314.3 919.1,315.8 919.5,314.4 919.9,315.2 920.4,314.8 920.8,316.3 921.3,314.9 921.7,315.2 922.2,314.7 922.6,315.1 923,315.5 923.5,314.5 923.9,314.3 924.4,314.3 924.8,314 925.2,313.9 925.7,314.5 926.1,314.9 926.6,314.9 927,313.5 927.4,313.6 927.9,313.8 928.3,314.1 928.8,313.9 929.2,313.9 929.6,314 930.1,314.1 930.5,312.8 931,314 931.4,314.2 931.8,314.5 932.3,314.3 932.7,313.6 933.2,313.6 933.6,313.9 934,313.8 934.5,314 934.9,314.5 935.4,313.3 935.8,313.7 936.2,312.7 936.7,314.2 937.1,314 937.6,313.4 938,314.2 938.5,314.5 938.9,314.4 939.3,313.9 939.8,313.8 940.2,313.9 940.7,313.6 941.1,313.7 941.5,314 942,313.9 942.4,314.1 942.9,313.7 943.3,313.7 943.7,313.9 944.2,313.9 944.6,314.3 945.1,314.7 945.5,314.5 945.9,313.8 946.4,314 946.8,313.4 947.3,314 947.7,313.5 948.1,313.3 948.6,313.6 949,314.3 949.5,314.2 949.9,314.3 950.3,314.6 950.8,314.1 951.2,313.7 951.7,314.2 952.1,312.9 952.6,313.8 953,313.6 953.4,313.5 953.9,313.6 954.3,312.8 954.8,313 955.2,312 955.6,312.3 956.1,312.3 956.5,312.6 957,313 957.4,312.2 957.8,312.7 958.3,311.8 958.7,312.3 959.2,311.4 959.6,311.9 960,311.7 960.5,312 960.9,311.8 961.4,311.7 961.8,311.7 962.2,312.3 962.7,311.8 963.1,310.9 963.6,312.3 964,312.3 964.4,312.5 964.9,312.9 965.3,311.9 965.8,312.4 966.2,312.2 966.7,311.6 967.1,311.3 967.5,312.8 968,311.9 968.4,312.1 968.9,311.9 969.3,311.9 969.7,312.3 970.2,311.5 970.6,311.6 971.1,311.6 971.5,311.1 971.9,311.3 972.4,311.5 972.8,311.4 973.3,310.9 973.7,311.3 974.1,311.7 974.6,311.7 975,311.5 975.5,311.8 975.9,311.2 976.3,310.9 976.8,311.8 977.2,311.2 977.7,310.8 978.1,310.8 978.5,311.3 979,310.2 979.4,311.1 979.9,311.4 980.3,311.4 980.7,310.8 981.2,310.5 981.6,310.4 982.1,310.9 982.5,311.5 983,311.1 983.4,311.3 983.8,310.8 984.3,311.3 984.7,310.5 985.2,310 985.6,310.6 986,310.4 986.5,310.9 986.9,311.2 987.4,311.2 987.8,310.3 988.2,310.3 988.7,311 989.1,310.5 989.6,311.2 990,310.4 990.4,311 990.9,311.4 991.3,310.9 991.8,311.5 992.2,311.5 992.6,311.9 993.1,311 993.5,311.3 994,311.4 994.4,311.3 994.8,310.5 995.3,311.4 995.7,311.5 996.2,310.6 996.6,310.5 997.1,310.7 997.5,311.8 997.9,311.1 998.4,310.4 998.8,310.7 999.3,309.8 999.7,311 1000.1,309.9 1000.6,310.2 1001,309.1 1001.5,309.8 1001.9,309.2 1002.3,309.9 1002.8,310.2 1003.2,309.8 1003.7,309.5 1004.1,309.8 1004.5,308.7 1005,308.5 1005.4,309.2 1005.9,309.6 1006.3,309.4 1006.7,309.7 1007.2,308.9 1007.6,309.3 1008.1,309.3 1008.5,309.7 1008.9,310.5 1009.4,309.8 1009.8,310 1010.3,309.6 1010.7,309.8 1011.1,310.2 1011.6,310.2 1012,309.4 1012.5,310.3 1012.9,310.2 1013.4,309.7 1013.8,310 1014.2,310 1014.7,309.4 1015.1,308.8 1015.6,310.2 1016,309.4 1016.4,309.2 1016.9,309.2 1017.3,309 1017.8,308.9 1018.2,308.2 1018.6,308.8 1019.1,308.6 1019.5,308.4 1020,308.4 1020.4,308.3 1020.8,307.7 1021.3,307.9 1021.7,307.7 1022.2,307.9 1022.6,308 1023,307.9 1023.5,308.2 1023.9,307.8 1024.4,308.3 1024.8,308.2 1025.2,307.5 1025.7,307.4 1026.1,308.5 1026.6,307 1027,307.6 1027.5,307.6 1027.9,307.2 1028.3,307.6 1028.8,307.9 1029.2,306.8 1029.7,308.2 1030.1,307.8 1030.5,307.7 1031,308.4 1031.4,308.1 1031.9,307.8 1032.3,307.1 1032.7,308.4 1033.2,308 1033.6,307.7 1034.1,307.8 1034.5,308.3 1034.9,307.4 1035.4,307.5 1035.8,307.5 1036.3,307.2 1036.7,307.3 1037.1,307.4 1037.6,307.4 1038,308.1 1038.5,307.8 1038.9,307.6 1039.3,308 1039.8,307.8 1040.2,308.1 1040.7,307 1041.1,306.7 1041.6,307.7 1042,307.2 1042.4,307.4 1042.9,306.6 1043.3,306.8 1043.8,306.9 1044.2,307 1044.6,306.9 1045.1,307.5 1045.5,306.7 1046,307.2 1046.4,306.6 1046.8,306.6 1047.3,306.2 1047.7,306.6 1048.2,306.3 1048.6,307 1049,306.3 1049.5,306.6 1049.9,306.3 1050.4,306.2 1050.8,305.8 1051.2,307.2 1051.7,306.1 1052.1,306.9 1052.6,305.6 1053,307.2 1053.4,307 1053.9,307.3 1054.3,305.9 1054.8,307.3 1055.2,306.5 1055.6,307 1056.1,307.6 1056.5,306.9 1057,306.5 1057.4,307 1057.9,306.7 1058.3,307.2 1058.7,307 1059.2,307.1 1059.6,306.9 1060.1,306.1 1060.5,306.8 1060.9,307.1 1061.4,307.5 1061.8,307.4 1062.3,306.4 1062.7,307.3 1063.1,307.1 1063.6,306.8 1064,306.9 1064.5,305.6 1064.9,307.4 1065.3,306.1 1065.8,306.1 1066.2,307.1 1066.7,306.7 1067.1,306.3 1067.5,305.7 1068,307 1068.4,307.3 1068.9,306 1069.3,305.7 1069.7,306.6 1070.2,307.4 1070.6,305.6 1071.1,306.4 1071.5,305.8 1072,306.2 1072.4,306.2 1072.8,306.2 1073.3,305.4 1073.7,305.5 1074.2,307.1 1074.6,306.4 1075,304.9 1075.5,305.9 1075.9,306.5 1076.4,305.8 1076.8,305.8 1077.2,305.7 1077.7,305.8 1078.1,305.3 1078.6,305.3 1079,305 1079.4,305.5 1079.9,305.3 1080.3,305.2 1080.8,304.6 1081.2,305.1 1081.6,305.3 1082.1,305 1082.5,305.1 1083,304.7 1083.4,305.1 1083.8,304.6 1084.3,304.8 1084.7,305.5 1085.2,305.6 1085.6,305.2 1086,305.5 1086.5,305.8 1086.9,306.4 1087.4,306.5 1087.8,305.5 1088.3,305.2 1088.7,305 1089.1,306.2 1089.6,305.3 1090,305.9 1090.5,305.3 1090.9,305.1 1091.3,305.5 1091.8,305.2 1092.2,305.8 1092.7,305.3 1093.1,305.7 1093.5,304.5 1094,304.9 1094.4,304.4 1094.9,304.4 1095.3,304.8 1095.7,304.4 1096.2,304.7 1096.6,304.2 1097.1,304.5 1097.5,305 1097.9,304.5 1098.4,304.5 1098.8,304.4 1099.3,303.9 1099.7,303.7 1100.1,304.6 1100.6,304.5 1101,305.3 1101.5,304.4 1101.9,304.7 1102.4,305.5 1102.8,304.4 1103.2,304.1 1103.7,304.6 1104.1,304.3 1104.6,304.6 1105,303.5 1105.4,304.6 1105.9,304 1106.3,302.9 1106.8,303.6 1107.2,303.6 1107.6,303.8 1108.1,304 1108.5,303.4 1109,303.2 1109.4,303.8 1109.8,303.4 1110.3,303 1110.7,303.1 1111.2,304.3 1111.6,304.1 1112,304.2 1112.5,303 1112.9,303.2 1113.4,303.2 1113.8,304.2 1114.2,304.2 1114.7,303.8 1115.1,303.7 1115.6,304.1 1116,303.8 1116.5,303.6 1116.9,303.8 1117.3,304.1 1117.8,304.7 1118.2,303.7 1118.7,303.4 1119.1,303.6 1119.5,303.6 1120,303.6 1120.4,302.9 1120.9,303.3 1121.3,303 1121.7,303.4 1122.2,303.4 1122.6,302.9 1123.1,303.4 1123.5,303.3 1123.9,302.9 1124.4,302.1 1124.8,302.3 1125.3,301.7 1125.7,302.3 1126.1,302.4 1126.6,302.9 1127,302.5 1127.5,301.5 1127.9,302 1128.3,302 1128.8,301.8 1129.2,302.2 1129.7,302.3 1130.1,302.1 1130.5,302 1131,302.1 1131.4,302.1 1131.9,302.1 1132.3,302.6 1132.8,302.2 1133.2,302.2 1133.6,301.4 1134.1,302.7 1134.5,302.1 1135,300.8 1135.4,302 1135.8,302.5 1136.3,302 1136.7,301.3 1137.2,302.3 1137.6,301.9 1138,302.2 1138.5,302.3 1138.9,300.5 1139.4,301.8 1139.8,302.2 1140.2,302 1140.7,301.7 1141.1,301.7 1141.6,301.4 1142,301.6 1142.4,302.2 1142.9,301.4 1143.3,301.8 1143.8,301.7 1144.2,302.2 1144.6,301.8 1145.1,301.9 1145.5,301.5 1146,302.2 1146.4,301.4 1146.9,301.4 1147.3,302 1147.7,301.8 1148.2,301.5 1148.6,300.7 1149.1,301.9 1149.5,301 1149.9,301.7 1150.4,301 1150.8,300.3 1151.3,301.1 1151.7,300.6 1152.1,301.1 1152.6,300 1153,300.4 1153.5,300.6 1153.9,301.6 1154.3,301.6 1154.8,300.6 1155.2,301.4 1155.7,301.2 1156.1,300.8 1156.5,301.5 1157,300.6 1157.4,301.1 1157.9,300.8 1158.3,301.4 1158.7,300.9 1159.2,301.5 1159.6,300.9 1160.1,300.9 1160.5,301.1 1160.9,301.4 1161.4,301.2 1161.8,302.7 1162.3,301 1162.7,301.7 1163.2,301.6 1163.6,301.9 1164,302.2 1164.5,301.7 1164.9,301.1 1165.4,300.7 1165.8,301.7 1166.2,301.5 1166.7,300.6 1167.1,301.7 1167.6,300.4 1168,301.1 1168.4,301.5 1168.9,300.7 1169.3,300.4 1169.8,301.9 1170.2,300.5 1170.6,300.9 1171.1,300.2 1171.5,300.8 1172,301.3 1172.4,300.6 1172.8,300.5 1173.3,299.9 1173.7,300 1174.2,300.1 1174.6,300.6 1175,300.7 1175.5,300.5 1175.9,300.7 1176.4,300.4 1176.8,301.3 1177.3,300.2 1177.7,300.2 1178.1,298.9 1178.6,299.8 1179,300.2 1179.5,299.5 1179.9,300 1180.3,299.5 1180.8,300.1 1181.2,298.6 1181.7,299.3 1182.1,300 1182.5,299.5 1183,299.1 1183.4,299.2 1183.9,299.3 1184.3,299.9 1184.7,299.7 1185.2,299.6 1185.6,299.1 1186.1,299.7 1186.5,299.9 1186.9,298.9 1187.4,299.9 1187.8,299 1188.3,299.1 1188.7,298.8 1189.1,298.5 1189.6,298.9 1190,298.8 1190.5,299.9 1190.9,299.7 1191.4,299 1191.8,298.5 1192.2,298.4 1192.7,297.8 1193.1,298.5 1193.6,298.7 1194,298.2 1194.4,298.6 1194.9,298.5 1195.3,298.9 1195.8,298 1196.2,298.9 1196.6,298.3 1197.1,299.4 1197.5,298 1198,298.6 1198.4,297.6 1198.8,298.7 1199.3,298.4 1199.7,297.7 1200.2,298.5 1200.6,298.1 1201,298.5 1201.5,299.2 1201.9,298.2 1202.4,298.3 1202.8,299 1203.2,298.3 1203.7,298.8 1204.1,299 1204.6,298.5 1205,298.9 1205.4,297.5 1205.9,299.2 1206.3,298.2 1206.8,297.9 1207.2,299.1 1207.7,298.7 1208.1,297.7 1208.5,298.3 1209,298.1 1209.4,297.8 1209.9,298.6 1210.3,298.9 1210.7,299.5 1211.2,298.2 1211.6,298.7 1212.1,297.9 1212.5,297.8 1212.9,298.6 1213.4,297 1213.8,297.3 1214.3,297.3 1214.7,298.3 1215.1,298 1215.6,298 1216,298 1216.5,298.3 1216.9,297.5 1217.3,297.5 1217.8,297.5 1218.2,298.3 1218.7,297.6 1219.1,298.1 1219.5,299.3 1220,298.2 1220.4,297.9 1220.9,297.4 1221.3,297.9 1221.8,297.9 1222.2,298.2 1222.6,297.5 1223.1,298.2 1223.5,298.2 1224,298.2 1224.4,297.6 1224.8,298 1225.3,298.6 1225.7,297.5 1226.2,298 1226.6,297.4 1227,297.2 1227.5,296.9 1227.9,297 1228.4,297.6 1228.8,297.4 1229.2,297.5 1229.7,296.1 1230.1,296.3 1230.6,295.8 1231,296.7 1231.4,297.3 1231.9,295.6 1232.3,296.1 1232.8,296.1 1233.2,296.2 1233.6,296 1234.1,295.9 1234.5,296.9 1235,295.7 1235.4,296.6 1235.8,296.6 1236.3,295.6 1236.7,296.1 1237.2,296.6 1237.6,297.2 1238.1,296.1 1238.5,295.7 1238.9,296 1239.4,296.7 1239.8,296.7 1240.3,297 1240.7,296.4 1241.1,296.1 1241.6,296 1242,296.7 1242.5,296.4 1242.9,296.2 1243.3,296.6 1243.8,296.5 1244.2,295.3 1244.7,296.2 1245.1,295.8 1245.5,296.2 1246,295.9 1246.4,296.7 1246.9,295.7 1247.3,295.2 1247.7,294.6 1248.2,295.1 1248.6,295.3 1249.1,295.9 1249.5,296.2 1249.9,295.9 1250.4,295.4 1250.8,295.7 1251.3,294.9 1251.7,295.7 1252.2,296.1 1252.6,295.8 1253,296.1 1253.5,296.1 1253.9,295 1254.4,295.8 1254.8,295.4 1255.2,294.9 1255.7,294.8 1256.1,295.8 1256.6,295.1 1257,295.7 1257.4,295.8 1257.9,295.5 1258.3,296.3 1258.8,296 1259.2,295.7 1259.6,295.4 1260.1,295.8 1260.5,295.8 1261,295.2 1261.4,295 1261.8,295.3 1262.3,295.1 1262.7,295.8 1263.2,295.7 1263.6,295.5 1264,295.8 1264.5,295.6 1264.9,294.5 1265.4,295.2 1265.8,295.6 1266.3,294.9 1266.7,294.4 1267.1,295 1267.6,294.5 1268,295 1268.5,295 1268.9,295.2 1269.3,294.9 1269.8,294 1270.2,295.3 1270.7,294.1 1271.1,295.3 1271.5,294.9 1272,294.4 1272.4,294.3 1272.9,294.3 1273.3,295.1 1273.7,294 1274.2,294.6 1274.6,292.8 1275.1,293.8 1275.5,293.7 1275.9,294.4 1276.4,294.1 1276.8,294.4 1277.3,293.4 1277.7,293.8 1278.1,293.6 1278.6,294.1 1279,294.3 1279.5,293.4 1279.9,294.4 1280.3,294.8 1280.8,293.8 1281.2,294.3 1281.7,294 1282.1,293.1 1282.6,293.6 1283,293 1283.4,293.8 1283.9,292.8 1284.3,292.8 1284.8,293.6 1285.2,293.6 1285.6,294.1 1286.1,293.8 1286.5,293.4 1287,294.6 1287.4,293.6 1287.8,294.7 1288.3,294.5 1288.7,294.8 1289.2,292.8 1289.6,293.8 1290,293.6 1290.5,294 1290.9,293.2 1291.4,294.5 1291.8,293.5 1292.2,292.6 1292.7,293.7 1293.1,293.7 1293.6,293.5 1294,294 1294.4,293.6 1294.9,293.2 1295.3,293.5 1295.8,293.5 1296.2,293.7 1296.7,293.2 1297.1,293.1 1297.5,292.4 1298,292.6 1298.4,292.9 1298.9,293.6 1299.3,292.2 1299.7,292.4 1300.2,293 1300.6,293.3 1301.1,292.9 1301.5,291.9 1301.9,292.9 1302.4,292.4 1302.8,292.1 1303.3,291.7 1303.7,292.2 1304.1,292.3 1304.6,292.3 1305,291.4 1305.5,291.9 1305.9,292.4 1306.3,293 1306.8,292.8 1307.2,292.4 1307.7,293 1308.1,292.2 1308.5,292.6 1309,292.6 1309.4,292.4 1309.9,292.4 1310.3,292.9 1310.7,292.5 1311.2,291.3 1311.6,292.8 1312.1,292.4 1312.5,291.6 1313,292.1 1313.4,292.7 1313.8,292.8 1314.3,291.8 1314.7,291.7 1315.2,291.4 1315.6,292.3 1316,291.9 1316.5,292.6 1316.9,292.1 1317.4,292.4 1317.8,291.9 1318.2,291.5 1318.7,291.3 1319.1,292.3 1319.6,291.2 1320,292 1320.4,292.3 1320.9,292 1321.3,292.5 1321.8,291.8 1322.2,291.9 1322.6,292.1 1323.1,291.8 1323.5,292.1 1324,291.9 1324.4,292.5 1324.8,291.9 1325.3,292.2 1325.7,291.9 1326.2,291.7 1326.6,291.4 1327.1,292.1 1327.5,292 1327.9,291.4 1328.4,291.1 1328.8,291.3 1329.3,290.8 1329.7,290.5 1330.1,290.9 1330.6,290.9 1331,291.3 1331.5,291.2 1331.9,290.9 1332.3,290.6 1332.8,290.4 1333.2,290.3 1333.7,290.5 1334.1,289.9 1334.5,290.2 1335,290.1 1335.4,290.3 1335.9,290.6 1336.3,290.8 1336.7,290 1337.2,290 1337.6,290.1 1338.1,290.1 1338.5,288.8 1338.9,290.2 1339.4,289.9 1339.8,289.5 1340.3,290.3 1340.7,289.9 1341.2,289.1 1341.6,289.6 1342,289.8 1342.5,289.8 1342.9,290.1 1343.4,289.8 1343.8,290.6 1344.2,290.6 1344.7,290.4 1345.1,290.1 1345.6,290.2 1346,289.9 1346.4,291 1346.9,289.6 1347.3,289.1 1347.8,289.6 1348.2,290.4 1348.6,290.9 1349.1,290.3 1349.5,290.8 1350,289.9 1350.4,290.5 1350.8,289.8 1351.3,289.7 1351.7,291 1352.2,290 1352.6,290.4 1353,290.7 1353.5,290.4 1353.9,290.2 1354.4,289.4 1354.8,290.5 1355.2,289.4 1355.7,289 1356.1,289.6 1356.6,289.6 1357,289.9 1357.5,290.2 1357.9,289.4 1358.3,289.6 1358.8,289.5 1359.2,288.6 1359.7,289.1 1360.1,289.2 1360.5,288.8 1361,290.1 1361.4,290 1361.9,289.8 1362.3,289.7 1362.7,289.1 1363.2,289.3 1363.6,288.4 1364.1,288.2 1364.5,288.4 1364.9,288.8 1365.4,288.5 1365.8,288.4 1366.3,289.2 1366.7,288.2 1367.1,288 1367.6,288.2 1368,287.6 1368.5,287.9 1368.9,288.5 1369.3,287.9 1369.8,288.3 1370.2,287.6 1370.7,288.3 1371.1,287.5 1371.6,287.6 1372,287.5 1372.4,287.8 1372.9,288.1 1373.3,286.9 1373.8,287.8 1374.2,287 1374.6,287.4 1375.1,287.4 1375.5,287 1376,287.7 1376.4,287.2 1376.8,288.4 1377.3,287.4 1377.7,288.1 1378.2,288 1378.6,287.6 1379,287.4 1379.5,286.6 1379.9,288.4 1380.4,287.6 1380.8,288.1 1381.2,287.3 1381.7,288.2 1382.1,287.9 1382.6,288.3 1383,287.8 1383.4,287.8 1383.9,288.7 1384.3,288.4 1384.8,289 1385.2,288.2 1385.6,287.9 1386.1,288.6 1386.5,287.6 1387,289.2 1387.4,288.8 1387.9,288.4 1388.3,288 1388.7,287.8 1389.2,287.9 1389.6,288.3 1390.1,288.1 1390.5,288.6 1390.9,288.8 1391.4,288.8 1391.8,287.1 1392.3,289.1 1392.7,288 1393.1,287.2 1393.6,287.7 1394,288.1 1394.5,287.7 1394.9,287 1395.3,286.9 1395.8,287.6 1396.2,287 1396.7,287.3 1397.1,286.9 1397.5,287 1398,287.6 1398.4,288.2 1398.9,287.6 1399.3,286.8 1399.7,287.2 1400.2,287.4 1400.6,286.2 1401.1,287.6 1401.5,287 1402,287.5 1402.4,287.1 1402.8,287.1 1403.3,286.5 1403.7,287.7 1404.2,287.6 1404.6,287.9 1405,287 1405.5,287.4 1405.9,287.2 1406.4,287.7 1406.8,287.6 1407.2,286.9 1407.7,287.3 1408.1,286.8 1408.6,286.7 1409,287.1 1409.4,287.8 1409.9,286.7 1410.3,287.1 1410.8,286.7 1411.2,288 1411.6,287.8 1412.1,288 1412.5,287.3 1413,286.6 1413.4,287 1413.8,287.3 1414.3,287.2 1414.7,286.8 1415.2,287.1 1415.6,287 1416.1,287.1 1416.5,288 1416.9,287.2 1417.4,286.5 1417.8,287.2 1418.3,287.1 1418.7,287.5 1419.1,287.4 1419.6,286.5 1420,287.1 1420.5,287.2 1420.9,287.9 1421.3,286.5 1421.8,287.2 1422.2,286.9 1422.7,285.8 1423.1,285.8 1423.5,287 1424,285.6 1424.4,285.6 1424.9,286.1 1425.3,285.2 1425.7,286.2 1426.2,286.1 1426.6,286 1427.1,285.6 1427.5,284.6 1427.9,285.7 1428.4,285.4 1428.8,285.3 1429.3,284.6 1429.7,284.8 1430.1,284.2 1430.6,285.1 1431,285.4 1431.5,285.2 1431.9,285 1432.4,285.6 1432.8,285 1433.2,284.4 1433.7,285.3 1434.1,284.9 1434.6,284.4 1435,285.3 1435.4,285.3 1435.9,285.4 1436.3,284.9 1436.8,284.7 1437.2,284.7 1437.6,284.8 1438.1,284.5 1438.5,284.9 1439,285.9 1439.4,285.3 1439.8,285.2 1440.3,285.1 1440.7,285.5 1441.2,285.6 1441.6,285.6 1442,286 1442.5,285.2 1442.9,285.3 1443.4,284.7 1443.8,285.3 1444.2,285.2 1444.7,285.5 1445.1,285.8 1445.6,285 1446,285.5 1446.5,285.1 1446.9,285.8 1447.3,285.2 1447.8,286.2 1448.2,285.8 1448.7,285.7 1449.1,285 1449.5,284.9 1450,285 1450.4,284.4 1450.9,284.7 1451.3,284.6 1451.7,284.5 1452.2,285 1452.6,284.9 1453.1,284.5 1453.5,284.7 1453.9,284.5 1454.4,284.3 1454.8,284.3 1455.3,284.8 1455.7,285.1 1456.1,284.3 1456.6,284.3 1457,283.7 1457.5,284.4 1457.9,284.2 1458.3,283.7 1458.8,284 1459.2,283.7 1459.7,282.8 1460.1,282.7 1460.5,283.1 1461,283.2 1461.4,283.8 1461.9,283.2 1462.3,283.4 1462.8,283.4 1463.2,283.4 1463.6,283.4 1464.1,283.5 1464.5,283.4 1465,283 1465.4,283.5 1465.8,284.3 1466.3,283.8 1466.7,284 1467.2,283.6 1467.6,282.9 1468,283 1468.5,283.4 1468.9,283 1469.4,283.4 1469.8,283.8 1470.2,283.8 1470.7,283.5 1471.1,282.6 1471.6,283.9 1472,282.8 1472.4,282.7 1472.9,283.4 1473.3,283.3 1473.8,283.2 1474.2,283.3 1474.6,282.9 1475.1,283.1 1475.5,282.7 1476,282.3 1476.4,282.9 1476.9,282.7 1477.3,282.8 1477.7,282.7 1478.2,283.4 1478.6,282.7 1479.1,282.8 1479.5,283.2 1479.9,282 1480.4,283.3 1480.8,283.2 1481.3,282.7 1481.7,283.7 1482.1,283.2 1482.6,283.6 1483,283.1 1483.5,282.8 1483.9,282.5 1484.3,282.1 1484.8,282.4 1485.2,282 1485.7,282.2 1486.1,282.8 1486.5,281.8 1487,282.8 1487.4,282.5 1487.9,281.7 1488.3,282 1488.7,282.4 1489.2,282.2 1489.6,282.2 1490.1,283.1 1490.5,282.5 1491,282.6 1491.4,281.9 1491.8,282.3 1492.3,281.3 1492.7,281.5 1493.2,282.1 1493.6,281.5 1494,282 1494.5,281.6 1494.9,281.2 1495.4,281.2 1495.8,282.1 1496.2,281.3 1496.7,280.8 1497.1,280.8 1497.6,280.5" stroke="#ff7f0e" stroke-width="1.6"/>
</g>
<rect x="854.3" y="240.5" width="643.7" height="117.5" fill="none" stroke="#333" stroke-width="0.9"/>
<line x1="850.8" x2="854.3" y1="243" y2="243" stroke="#333" stroke-width="0.8"/>
<text transform="translate(847.5,246.1) scale(1.35,1)" font-size="8.1" text-anchor="end" fill="#262626" >2.0</text>
<line x1="850.8" x2="854.3" y1="261.8" y2="261.8" stroke="#333" stroke-width="0.8"/>
<text transform="translate(847.5,264.9) scale(1.35,1)" font-size="8.1" text-anchor="end" fill="#262626" >1.5</text>
<line x1="850.8" x2="854.3" y1="280.5" y2="280.5" stroke="#333" stroke-width="0.8"/>
<text transform="translate(847.5,283.6) scale(1.35,1)" font-size="8.1" text-anchor="end" fill="#262626" >1.0</text>
<line x1="850.8" x2="854.3" y1="299.2" y2="299.2" stroke="#333" stroke-width="0.8"/>
<text transform="translate(847.5,302.4) scale(1.35,1)" font-size="8.1" text-anchor="end" fill="#262626" >0.5</text>
<line x1="850.8" x2="854.3" y1="318" y2="318" stroke="#333" stroke-width="0.8"/>
<text transform="translate(847.5,321.1) scale(1.35,1)" font-size="8.1" text-anchor="end" fill="#262626" >0.0</text>
<line x1="850.8" x2="854.3" y1="336.8" y2="336.8" stroke="#333" stroke-width="0.8"/>
<text transform="translate(847.5,339.9) scale(1.35,1)" font-size="8.1" text-anchor="end" fill="#262626" >−0.5</text>
<line x1="850.8" x2="854.3" y1="355.5" y2="355.5" stroke="#333" stroke-width="0.8"/>
<text transform="translate(847.5,358.6) scale(1.35,1)" font-size="8.1" text-anchor="end" fill="#262626" >−1.0</text>
<line x1="854.3" x2="854.3" y1="358.0" y2="361.5" stroke="#333" stroke-width="0.8"/>
<text transform="translate(854.3,370.2) scale(1.35,1)" font-size="8.1" text-anchor="middle" fill="#262626" >2022</text>
<line x1="1015.2" x2="1015.2" y1="358.0" y2="361.5" stroke="#333" stroke-width="0.8"/>
<text transform="translate(1015.2,370.2) scale(1.35,1)" font-size="8.1" text-anchor="middle" fill="#262626" >2023</text>
<line x1="1176.2" x2="1176.2" y1="358.0" y2="361.5" stroke="#333" stroke-width="0.8"/>
<text transform="translate(1176.2,370.2) scale(1.35,1)" font-size="8.1" text-anchor="middle" fill="#262626" >2024</text>
<line x1="1337.1" x2="1337.1" y1="358.0" y2="361.5" stroke="#333" stroke-width="0.8"/>
<text transform="translate(1337.1,370.2) scale(1.35,1)" font-size="8.1" text-anchor="middle" fill="#262626" >2025</text>
<line x1="1498" x2="1498" y1="358.0" y2="361.5" stroke="#333" stroke-width="0.8"/>
<text transform="translate(1498,370.2) scale(1.35,1)" font-size="8.1" text-anchor="middle" fill="#262626" >2026</text>
<line x1="894.5" x2="894.5" y1="358.0" y2="360.0" stroke="#333" stroke-width="0.7"/>
<line x1="934.8" x2="934.8" y1="358.0" y2="360.0" stroke="#333" stroke-width="0.7"/>
<line x1="975" x2="975" y1="358.0" y2="360.0" stroke="#333" stroke-width="0.7"/>
<line x1="1055.5" x2="1055.5" y1="358.0" y2="360.0" stroke="#333" stroke-width="0.7"/>
<line x1="1095.7" x2="1095.7" y1="358.0" y2="360.0" stroke="#333" stroke-width="0.7"/>
<line x1="1135.9" x2="1135.9" y1="358.0" y2="360.0" stroke="#333" stroke-width="0.7"/>
<line x1="1216.4" x2="1216.4" y1="358.0" y2="360.0" stroke="#333" stroke-width="0.7"/>
<line x1="1256.6" x2="1256.6" y1="358.0" y2="360.0" stroke="#333" stroke-width="0.7"/>
<line x1="1296.8" x2="1296.8" y1="358.0" y2="360.0" stroke="#333" stroke-width="0.7"/>
<line x1="1377.3" x2="1377.3" y1="358.0" y2="360.0" stroke="#333" stroke-width="0.7"/>
<line x1="1417.5" x2="1417.5" y1="358.0" y2="360.0" stroke="#333" stroke-width="0.7"/>
<line x1="1457.8" x2="1457.8" y1="358.0" y2="360.0" stroke="#333" stroke-width="0.7"/>
<text transform="translate(1176.2,381.2) scale(1.35,1)" font-size="8.1" text-anchor="middle" fill="#262626" >date</text>
<clipPath id="clipCharge"><rect x="854.3" y="382.0" width="643.7" height="118.0"/></clipPath>
<g clip-path="url(#clipCharge)" fill="none" stroke-linejoin="round">
<path d="M854.3,424 854.7,420.9 855.2,421.7 855.6,420.9 856.1,423.8 856.5,423.1 856.9,423.3 857.4,418.1 857.8,418.4 858.3,418.2 858.7,416.2 859.1,420 859.6,421.3 860,419.3 860.5,414 860.9,411.3 861.3,411.4 861.8,411.8 862.2,417.6 862.7,415.5 863.1,413.8 863.6,409.5 864,408.4 864.4,408.6 864.9,406.7 865.3,410.2 865.8,411.5 866.2,411.4 866.6,403.9 867.1,405.5 867.5,403.3 868,402.8 868.4,409 868.8,407.4 869.3,407.1 869.7,401.9 870.2,401 870.6,399 871,400.7 871.5,404.5 871.9,403.1 872.4,403.6 872.8,399.5 873.2,395.7 873.7,398.7 874.1,398.6 874.6,401.4 875,402.4 875.4,402.6 875.9,395.1 876.3,396.1 876.8,395.6 877.2,395.8 877.7,399.8 878.1,399.8 878.5,397.7 879,391.2 879.4,392.1 879.9,391.9 880.3,394.7 880.7,396.6 881.2,397.8 881.6,394.9 882.1,392 882.5,390.9 882.9,390.9 883.4,392 883.8,396.5 884.3,394.3 884.7,395.7 885.1,391.5 885.6,389.8 886,390.2 886.5,389.8 886.9,392.6 887.3,393.5 887.8,393 888.2,389.3 888.7,387.7 889.1,390.6 889.5,389 890,394 890.4,394.5 890.9,392.7 891.3,389.3 891.8,387.7 892.2,387.3 892.6,391.7 893.1,393.1 893.5,391.2 894,391.9 894.4,387.6 894.8,388.5 895.3,390.3 895.7,390.8 896.2,392.7 896.6,392.8 897,394.2 897.5,390.1 897.9,389.1 898.4,391.6 898.8,391 899.2,392.8 899.7,392.7 900.1,394.8 900.6,389.2 901,391.3 901.4,392 901.9,394.5 902.3,395.1 902.8,397 903.2,394 903.6,392.6 904.1,392.5 904.5,395 905,392.6 905.4,398.6 905.8,399 906.3,401 906.7,394.3 907.2,394 907.6,396.2 908.1,396.6 908.5,400.4 908.9,400.5 909.4,401.3 909.8,396.2 910.3,398.2 910.7,399.2 911.1,400.2 911.6,406.6 912,405.4 912.5,403.5 912.9,401 913.3,402.1 913.8,401.5 914.2,405.2 914.7,407.6 915.1,407.5 915.5,407.4 916,405.7 916.4,403.9 916.9,403.6 917.3,407.3 917.7,410.4 918.2,413.6 918.6,414.1 919.1,408.1 919.5,408.8 919.9,409.3 920.4,411.5 920.8,415.5 921.3,415.2 921.7,414.3 922.2,413.2 922.6,414.7 923,412.4 923.5,414.5 923.9,418.8 924.4,420.2 924.8,418 925.2,417.2 925.7,416.9 926.1,420.1 926.6,420.2 927,424.7 927.4,424.8 927.9,424.6 928.3,422.6 928.8,420.1 929.2,423.8 929.6,424.6 930.1,428.2 930.5,430.7 931,428.9 931.4,425.7 931.8,426.8 932.3,425.2 932.7,428.5 933.2,432.7 933.6,434.9 934,435.8 934.5,431.5 934.9,431.3 935.4,432.2 935.8,432.3 936.2,440 936.7,439.6 937.1,440.4 937.6,433.9 938,436 938.5,436.7 938.9,438.7 939.3,440.9 939.8,443.1 940.2,442.6 940.7,441.8 941.1,438.4 941.5,440 942,441.2 942.4,444.7 942.9,447.1 943.3,447.1 943.7,442.9 944.2,443.3 944.6,444.7 945.1,445.6 945.5,450.5 945.9,450 946.4,449.8 946.8,447.5 947.3,445.5 947.7,449.7 948.1,449.6 948.6,451.7 949,454.7 949.5,455.9 949.9,449.4 950.3,450.2 950.8,452.7 951.2,451.8 951.7,457.8 952.1,458.8 952.6,457.5 953,454.4 953.4,454.9 953.9,454.7 954.3,456.5 954.8,459.5 955.2,460.1 955.6,459.2 956.1,457 956.5,457.7 957,458.1 957.4,458.1 957.8,460.2 958.3,461.5 958.7,462.8 959.2,457.6 959.6,459.5 960,457.6 960.5,460.1 960.9,462.8 961.4,463.4 961.8,464.1 962.2,459.8 962.7,460.9 963.1,460.2 963.6,459.9 964,460.6 964.4,464.5 964.9,464.8 965.3,462.3 965.8,459.6 966.2,462.7 966.7,462.6 967.1,465.2 967.5,467.1 968,463.8 968.4,460.5 968.9,461.7 969.3,461.9 969.7,463.4 970.2,467.2 970.6,465.5 971.1,464.7 971.5,461.2 971.9,460.7 972.4,461.6 972.8,461.3 973.3,466.9 973.7,465.4 974.1,463.3 974.6,459.5 975,460.7 975.5,460.6 975.9,459.3 976.3,462.5 976.8,466 977.2,464.1 977.7,459.4 978.1,457.6 978.5,459.7 979,458.7 979.4,463.1 979.9,460.3 980.3,461.6 980.7,458.1 981.2,457.5 981.6,455.8 982.1,456.7 982.5,461.9 983,460.5 983.4,461.3 983.8,456.5 984.3,456.2 984.7,456 985.2,455.7 985.6,459.3 986,457.6 986.5,456.4 986.9,453.3 987.4,453.2 987.8,450.9 988.2,454.2 988.7,457.4 989.1,454.4 989.6,453.5 990,448.9 990.4,449.1 990.9,449.9 991.3,449.4 991.8,451.5 992.2,452.6 992.6,451.5 993.1,448 993.5,446.6 994,444.1 994.4,444.8 994.8,449.6 995.3,449.2 995.7,447.7 996.2,442.1 996.6,442.8 997.1,441.4 997.5,443.6 997.9,445.8 998.4,443.7 998.8,442.1 999.3,439.9 999.7,438.4 1000.1,436.3 1000.6,437.7 1001,441 1001.5,439.5 1001.9,438.7 1002.3,433.4 1002.8,432.5 1003.2,433.5 1003.7,433.2 1004.1,436.2 1004.5,437.2 1005,435.7 1005.4,429.2 1005.9,430.8 1006.3,427.6 1006.7,428.4 1007.2,432 1007.6,430.9 1008.1,429.8 1008.5,424.7 1008.9,425.2 1009.4,424.5 1009.8,424.7 1010.3,425.6 1010.7,426.2 1011.1,427 1011.6,422 1012,421.2 1012.5,420 1012.9,420 1013.4,420.9 1013.8,424.9 1014.2,420.8 1014.7,417 1015.1,417.1 1015.6,416.1 1016,416.6 1016.4,419.2 1016.9,417.9 1017.3,419.5 1017.8,412.2 1018.2,412.8 1018.6,410.5 1019.1,411.8 1019.5,414.1 1020,414.5 1020.4,413 1020.8,409.8 1021.3,409.6 1021.7,407.7 1022.2,407.9 1022.6,409.7 1023,413.8 1023.5,410.9 1023.9,405.3 1024.4,406.7 1024.8,405.3 1025.2,403.2 1025.7,407.2 1026.1,409.4 1026.6,406.1 1027,402.1 1027.5,401.6 1027.9,401.8 1028.3,402.3 1028.8,406.8 1029.2,406.3 1029.7,404.1 1030.1,400.6 1030.5,397.9 1031,400 1031.4,402.7 1031.9,403.9 1032.3,403.2 1032.7,402.3 1033.2,398.5 1033.6,398.7 1034.1,396.1 1034.5,398.9 1034.9,400.9 1035.4,402 1035.8,402.2 1036.3,395.5 1036.7,398.8 1037.1,397.1 1037.6,396.3 1038,400.7 1038.5,399.6 1038.9,399.9 1039.3,396.3 1039.8,392.9 1040.2,395.4 1040.7,396 1041.1,400.6 1041.6,400.4 1042,398.4 1042.4,394.7 1042.9,394.6 1043.3,395.5 1043.8,394.8 1044.2,401 1044.6,399.8 1045.1,399.2 1045.5,396.1 1046,394.5 1046.4,395.6 1046.8,396.6 1047.3,397.6 1047.7,399.1 1048.2,398.2 1048.6,395.7 1049,394.3 1049.5,394.8 1049.9,395.2 1050.4,397.9 1050.8,401 1051.2,400.2 1051.7,396.9 1052.1,400.2 1052.6,398.3 1053,397.8 1053.4,401.1 1053.9,402.9 1054.3,400.8 1054.8,397.2 1055.2,398.7 1055.6,397.2 1056.1,397.9 1056.5,403.2 1057,405.3 1057.4,402.6 1057.9,400.8 1058.3,400.8 1058.7,400.8 1059.2,402.6 1059.6,405 1060.1,406 1060.5,405.4 1060.9,402.7 1061.4,404 1061.8,403.9 1062.3,404 1062.7,409.5 1063.1,406.7 1063.6,410 1064,407 1064.5,405.1 1064.9,406.2 1065.3,408.2 1065.8,412.7 1066.2,412.7 1066.7,412.3 1067.1,409.1 1067.5,410.2 1068,410.1 1068.4,411 1068.9,415.3 1069.3,420.1 1069.7,417.9 1070.2,414.6 1070.6,414 1071.1,414.3 1071.5,414.9 1072,419.5 1072.4,421.1 1072.8,421 1073.3,416 1073.7,418.6 1074.2,418.4 1074.6,418.4 1075,424 1075.5,427.4 1075.9,425 1076.4,422.6 1076.8,422.4 1077.2,422 1077.7,424 1078.1,429.1 1078.6,428.8 1079,429.4 1079.4,426.6 1079.9,426.5 1080.3,427.4 1080.8,429.4 1081.2,433.9 1081.6,434.3 1082.1,435.5 1082.5,432.6 1083,430.1 1083.4,432.5 1083.8,433.7 1084.3,438.2 1084.7,438.9 1085.2,439 1085.6,435.9 1086,436.9 1086.5,435.9 1086.9,439 1087.4,441.5 1087.8,445.5 1088.3,444.7 1088.7,439.4 1089.1,440.7 1089.6,442.1 1090,442.3 1090.5,448.2 1090.9,447.9 1091.3,450.4 1091.8,445.4 1092.2,445.6 1092.7,445.2 1093.1,446.2 1093.5,452.3 1094,450.5 1094.4,453 1094.9,451.3 1095.3,451.7 1095.7,448.3 1096.2,451.3 1096.6,456.2 1097.1,457.1 1097.5,457.5 1097.9,451.7 1098.4,453.2 1098.8,451.9 1099.3,455.3 1099.7,461.8 1100.1,459.2 1100.6,460.4 1101,457 1101.5,455 1101.9,457.6 1102.4,457.3 1102.8,462.7 1103.2,464.2 1103.7,462.8 1104.1,460.7 1104.6,458.6 1105,459.5 1105.4,461.6 1105.9,465.1 1106.3,465.8 1106.8,466.6 1107.2,461.9 1107.6,462.9 1108.1,462.5 1108.5,465.3 1109,468.2 1109.4,468.5 1109.8,469.6 1110.3,465.7 1110.7,465.5 1111.2,464.7 1111.6,467.2 1112,470 1112.5,469.3 1112.9,470.3 1113.4,468.8 1113.8,466.6 1114.2,466 1114.7,468.4 1115.1,470.8 1115.6,471.8 1116,471.6 1116.5,468.7 1116.9,468.6 1117.3,468.6 1117.8,469.1 1118.2,472.5 1118.7,472.9 1119.1,473.3 1119.5,469.2 1120,468.3 1120.4,470.6 1120.9,470.5 1121.3,474.3 1121.7,473.9 1122.2,473.5 1122.6,469.7 1123.1,469.8 1123.5,468.3 1123.9,469.4 1124.4,475.1 1124.8,473.5 1125.3,474.1 1125.7,467.3 1126.1,468.9 1126.6,468.9 1127,469 1127.5,472.9 1127.9,472.8 1128.3,470.5 1128.8,468 1129.2,466.6 1129.7,466.2 1130.1,469 1130.5,469.7 1131,470.8 1131.4,469.8 1131.9,467.7 1132.3,465.1 1132.8,465.4 1133.2,466.9 1133.6,467.4 1134.1,469.1 1134.5,469.1 1135,464.6 1135.4,463 1135.8,462.6 1136.3,463.5 1136.7,466.2 1137.2,465.9 1137.6,467.8 1138,462.9 1138.5,462.4 1138.9,461.1 1139.4,460 1139.8,464.2 1140.2,465.8 1140.7,464 1141.1,458.4 1141.6,459.1 1142,458.3 1142.4,458.2 1142.9,463.7 1143.3,460.7 1143.8,460.2 1144.2,455.7 1144.6,456.2 1145.1,455.7 1145.5,455.7 1146,458.1 1146.4,458 1146.9,456.9 1147.3,450.8 1147.7,450.2 1148.2,452 1148.6,452.1 1149.1,452.8 1149.5,454.6 1149.9,451.7 1150.4,447.2 1150.8,448.3 1151.3,447.6 1151.7,447.4 1152.1,451.5 1152.6,451.3 1153,449.6 1153.5,443.9 1153.9,444.1 1154.3,443.4 1154.8,443.8 1155.2,447.9 1155.7,444.5 1156.1,447.5 1156.5,441.3 1157,438.8 1157.4,440.4 1157.9,438.5 1158.3,440.9 1158.7,442.8 1159.2,440.5 1159.6,437.5 1160.1,434.6 1160.5,434.6 1160.9,434.6 1161.4,436.5 1161.8,437.1 1162.3,435.1 1162.7,431.4 1163.2,432.2 1163.6,430.2 1164,430.1 1164.5,435.3 1164.9,432 1165.4,432.2 1165.8,427.5 1166.2,427.7 1166.7,426.3 1167.1,426.2 1167.6,430 1168,429.2 1168.4,430.5 1168.9,422.5 1169.3,423.9 1169.8,424.7 1170.2,423.6 1170.6,426.6 1171.1,424.9 1171.5,425.4 1172,419.8 1172.4,420 1172.8,416.3 1173.3,418.3 1173.7,420 1174.2,422.9 1174.6,420.1 1175,417.6 1175.5,414.9 1175.9,414.5 1176.4,417.1 1176.8,419.9 1177.3,419.7 1177.7,419.1 1178.1,414.1 1178.6,413.4 1179,413.6 1179.5,412.3 1179.9,415.2 1180.3,416.9 1180.8,415.3 1181.2,410.5 1181.7,409.8 1182.1,410.1 1182.5,408.9 1183,412.2 1183.4,412.3 1183.9,412.4 1184.3,406 1184.7,405.4 1185.2,407.5 1185.6,407.7 1186.1,409.8 1186.5,411.8 1186.9,409.8 1187.4,406.2 1187.8,406.1 1188.3,405.6 1188.7,407.5 1189.1,410 1189.6,411.5 1190,406.4 1190.5,403.2 1190.9,402.8 1191.4,403.8 1191.8,403.7 1192.2,407 1192.7,407.4 1193.1,406.9 1193.6,404.9 1194,402.9 1194.4,404 1194.9,405.3 1195.3,409 1195.8,407.5 1196.2,406.3 1196.6,405.1 1197.1,401.3 1197.5,401.7 1198,404.4 1198.4,408.3 1198.8,408.1 1199.3,406.6 1199.7,404.3 1200.2,404.6 1200.6,403.3 1201,406.7 1201.5,408.2 1201.9,407.5 1202.4,408.1 1202.8,403.9 1203.2,403.8 1203.7,403.9 1204.1,405.4 1204.6,410.4 1205,410.2 1205.4,409.8 1205.9,404.8 1206.3,404.1 1206.8,405.8 1207.2,408 1207.7,412 1208.1,411.9 1208.5,410 1209,407.7 1209.4,407.8 1209.9,409 1210.3,408.4 1210.7,413.1 1211.2,414 1211.6,413.7 1212.1,408.7 1212.5,410.4 1212.9,409 1213.4,410.6 1213.8,416 1214.3,415.8 1214.7,416.8 1215.1,414.2 1215.6,413.5 1216,414.7 1216.5,414.5 1216.9,419.2 1217.3,419.3 1217.8,419 1218.2,419.9 1218.7,416.2 1219.1,419.1 1219.5,418.3 1220,423.6 1220.4,423.4 1220.9,422.1 1221.3,422.1 1221.8,420.1 1222.2,421 1222.6,424.3 1223.1,425.9 1223.5,427.3 1224,428 1224.4,425 1224.8,420.9 1225.3,425.4 1225.7,428.3 1226.2,431.7 1226.6,431.9 1227,432.1 1227.5,428.6 1227.9,429.6 1228.4,428.8 1228.8,431.2 1229.2,436.5 1229.7,436.8 1230.1,436.5 1230.6,432 1231,432.5 1231.4,434.1 1231.9,435.2 1232.3,439.3 1232.8,438.3 1233.2,441.2 1233.6,437 1234.1,436.8 1234.5,439.4 1235,439.6 1235.4,444 1235.8,445.5 1236.3,444.6 1236.7,441 1237.2,441 1237.6,443.1 1238.1,444.1 1238.5,446.2 1238.9,450.8 1239.4,449.5 1239.8,445.7 1240.3,446.5 1240.7,446.8 1241.1,448.7 1241.6,452.4 1242,452.8 1242.5,454.5 1242.9,450.9 1243.3,451.2 1243.8,452.3 1244.2,453.3 1244.7,458.8 1245.1,457.7 1245.5,456.8 1246,453.6 1246.4,454.1 1246.9,457.2 1247.3,455.9 1247.7,462.6 1248.2,462.7 1248.6,460.7 1249.1,460.6 1249.5,458.6 1249.9,459.9 1250.4,461.6 1250.8,466.6 1251.3,466 1251.7,467 1252.2,462.1 1252.6,461.9 1253,465.3 1253.5,465.6 1253.9,469.6 1254.4,471.2 1254.8,471.2 1255.2,466.6 1255.7,466.8 1256.1,468.9 1256.6,468.9 1257,472 1257.4,474.4 1257.9,474 1258.3,468 1258.8,468.1 1259.2,471.8 1259.6,472.6 1260.1,474.9 1260.5,477.1 1261,476 1261.4,472.7 1261.8,471.4 1262.3,475.2 1262.7,475.9 1263.2,478.9 1263.6,477 1264,478 1264.5,476.1 1264.9,473.5 1265.4,473.7 1265.8,475.7 1266.3,479.7 1266.7,479.3 1267.1,478.2 1267.6,475.8 1268,475 1268.5,475.9 1268.9,477.2 1269.3,481.6 1269.8,480.7 1270.2,480.9 1270.7,477.2 1271.1,475.5 1271.5,476.2 1272,476.6 1272.4,483 1272.9,481 1273.3,481.8 1273.7,478.2 1274.2,477.7 1274.6,475.7 1275.1,476.9 1275.5,482.2 1275.9,482.9 1276.4,481.1 1276.8,477.8 1277.3,474.9 1277.7,478.3 1278.1,479.3 1278.6,481.3 1279,481.1 1279.5,480.4 1279.9,475.8 1280.3,473.7 1280.8,476.3 1281.2,477.1 1281.7,481.9 1282.1,479.8 1282.6,478.5 1283,475.7 1283.4,473.4 1283.9,474.5 1284.3,473.5 1284.8,478.2 1285.2,479.6 1285.6,478.4 1286.1,475.3 1286.5,474.7 1287,472.4 1287.4,472.2 1287.8,474.5 1288.3,476.5 1288.7,475.8 1289.2,472.6 1289.6,469.5 1290,469.9 1290.5,471.3 1290.9,473.3 1291.4,473.3 1291.8,474.9 1292.2,468 1292.7,467.6 1293.1,467.9 1293.6,468.3 1294,469.3 1294.4,469.3 1294.9,468 1295.3,466.9 1295.8,465.3 1296.2,463.4 1296.7,465.8 1297.1,468.6 1297.5,469.4 1298,464.6 1298.4,461.1 1298.9,460.7 1299.3,460.5 1299.7,461.4 1300.2,464.6 1300.6,463.2 1301.1,463.6 1301.5,457.2 1301.9,457.9 1302.4,457.9 1302.8,455.8 1303.3,460.4 1303.7,459.4 1304.1,459.3 1304.6,456.9 1305,452.8 1305.5,454.3 1305.9,451.9 1306.3,457.8 1306.8,457.8 1307.2,454.4 1307.7,449.9 1308.1,449.1 1308.5,450 1309,447.9 1309.4,453.5 1309.9,452.1 1310.3,451.3 1310.7,446.5 1311.2,444 1311.6,445.1 1312.1,444 1312.5,447 1313,449.1 1313.4,447.4 1313.8,442.2 1314.3,441.3 1314.7,439.8 1315.2,442.3 1315.6,442.7 1316,442.3 1316.5,442.1 1316.9,439 1317.4,436.4 1317.8,436.5 1318.2,435.5 1318.7,439.3 1319.1,438.1 1319.6,438.3 1320,431.9 1320.4,434.7 1320.9,432.9 1321.3,431.5 1321.8,436.8 1322.2,434.1 1322.6,435.1 1323.1,429.4 1323.5,429.4 1324,428.5 1324.4,428 1324.8,431.5 1325.3,431.5 1325.7,427.8 1326.2,425.8 1326.6,425.8 1327.1,423.4 1327.5,423.8 1327.9,426.6 1328.4,425.8 1328.8,427.7 1329.3,421.3 1329.7,420.2 1330.1,421.1 1330.6,421.2 1331,427.9 1331.5,425.1 1331.9,421.7 1332.3,421.3 1332.8,419 1333.2,417.9 1333.7,418 1334.1,420.2 1334.5,423.7 1335,420.9 1335.4,415.9 1335.9,417.3 1336.3,415.8 1336.7,414.2 1337.2,418.2 1337.6,419 1338.1,421.5 1338.5,414.8 1338.9,413.5 1339.4,414.1 1339.8,414.4 1340.3,414.5 1340.7,418 1341.2,418.1 1341.6,412.9 1342,412.7 1342.5,412.7 1342.9,413 1343.4,415.7 1343.8,416.3 1344.2,417.2 1344.7,412.2 1345.1,410.9 1345.6,411.9 1346,410.9 1346.4,414.9 1346.9,416.9 1347.3,415 1347.8,409.4 1348.2,409.3 1348.6,411.1 1349.1,410.9 1349.5,416.2 1350,417.3 1350.4,414.7 1350.8,411.3 1351.3,410.5 1351.7,411.3 1352.2,411.7 1352.6,416.4 1353,415.7 1353.5,415 1353.9,412.2 1354.4,410.9 1354.8,413.9 1355.2,413.7 1355.7,415.3 1356.1,415.4 1356.6,416.6 1357,413.4 1357.5,414.3 1357.9,413 1358.3,413.5 1358.8,419.8 1359.2,418.2 1359.7,418 1360.1,414.6 1360.5,415.9 1361,414.6 1361.4,417.8 1361.9,418.7 1362.3,420.7 1362.7,421.9 1363.2,415.8 1363.6,415.8 1364.1,418.2 1364.5,416.4 1364.9,423.8 1365.4,423.1 1365.8,422.1 1366.3,422.3 1366.7,418.8 1367.1,420.5 1367.6,421.6 1368,426.9 1368.5,426.1 1368.9,427.6 1369.3,424.1 1369.8,423.5 1370.2,424.9 1370.7,423.2 1371.1,430.5 1371.6,430.7 1372,430.2 1372.4,426.6 1372.9,425.8 1373.3,426.4 1373.8,428.9 1374.2,433.3 1374.6,433.6 1375.1,432.9 1375.5,429.8 1376,431.1 1376.4,433.4 1376.8,430.4 1377.3,435.9 1377.7,437.5 1378.2,437.5 1378.6,435.2 1379,435.8 1379.5,435.9 1379.9,437.1 1380.4,441.9 1380.8,443.6 1381.2,442.5 1381.7,438.5 1382.1,439.7 1382.6,439.9 1383,443.5 1383.4,445.9 1383.9,446.7 1384.3,448 1384.8,445.4 1385.2,443.3 1385.6,445.4 1386.1,445.4 1386.5,450.7 1387,450.5 1387.4,451.7 1387.9,449.8 1388.3,448.4 1388.7,449.5 1389.2,449.8 1389.6,455.4 1390.1,456.2 1390.5,455.1 1390.9,451.6 1391.4,452.1 1391.8,452.7 1392.3,454.7 1392.7,458.7 1393.1,459.5 1393.6,460.1 1394,457.3 1394.5,457.3 1394.9,455.8 1395.3,459.6 1395.8,464.3 1396.2,465.3 1396.7,465 1397.1,461.6 1397.5,463.1 1398,464.7 1398.4,463.7 1398.9,470 1399.3,468.9 1399.7,469.1 1400.2,464.9 1400.6,464.3 1401.1,466.4 1401.5,468.7 1402,473.7 1402.4,474 1402.8,473.2 1403.3,472.2 1403.7,469.9 1404.2,470.7 1404.6,471.3 1405,476.6 1405.5,476.8 1405.9,477.7 1406.4,474.2 1406.8,475.5 1407.2,474.1 1407.7,473.8 1408.1,479.5 1408.6,479.9 1409,481.3 1409.4,475.4 1409.9,477.6 1410.3,476.5 1410.8,478.4 1411.2,483.7 1411.6,482.2 1412.1,483.1 1412.5,479.6 1413,479.1 1413.4,480.1 1413.8,481.5 1414.3,484.7 1414.7,486.2 1415.2,485.5 1415.6,482.8 1416.1,483.4 1416.5,483 1416.9,483.8 1417.4,487.2 1417.8,486.5 1418.3,489.3 1418.7,483.8 1419.1,485.9 1419.6,485 1420,485.4 1420.5,491.2 1420.9,491.2 1421.3,488.7 1421.8,485.2 1422.2,484.9 1422.7,486 1423.1,483.7 1423.5,490 1424,491 1424.4,488 1424.9,485.4 1425.3,485.9 1425.7,484.5 1426.2,486.3 1426.6,489.6 1427.1,490.2 1427.5,491.1 1427.9,485.2 1428.4,485.5 1428.8,486.8 1429.3,487.3 1429.7,489.1 1430.1,490.7 1430.6,489.7 1431,485.2 1431.5,485 1431.9,486.8 1432.4,485.2 1432.8,488.5 1433.2,488.6 1433.7,487.2 1434.1,484.5 1434.6,483.4 1435,482.5 1435.4,485 1435.9,486.4 1436.3,486.4 1436.8,486.7 1437.2,481.5 1437.6,481.8 1438.1,483.5 1438.5,481.8 1439,486.1 1439.4,486 1439.8,485.4 1440.3,480.1 1440.7,480 1441.2,481.2 1441.6,480.3 1442,483.5 1442.5,484.9 1442.9,483.7 1443.4,479.5 1443.8,478.8 1444.2,477.5 1444.7,477.2 1445.1,479.6 1445.6,480.1 1446,479.4 1446.5,475 1446.9,473.8 1447.3,475.3 1447.8,474.5 1448.2,478.1 1448.7,478.3 1449.1,477.7 1449.5,473.5 1450,472.2 1450.4,472.8 1450.9,471.2 1451.3,475 1451.7,474.6 1452.2,473.3 1452.6,468.6 1453.1,468.9 1453.5,468 1453.9,469.8 1454.4,473.6 1454.8,473 1455.3,468.3 1455.7,467.4 1456.1,463.9 1456.6,462.4 1457,464.6 1457.5,465.6 1457.9,465 1458.3,464.9 1458.8,459 1459.2,459.7 1459.7,460.7 1460.1,459.5 1460.5,463.6 1461,464.2 1461.4,463 1461.9,454.9 1462.3,456.7 1462.8,455.7 1463.2,456.5 1463.6,458.8 1464.1,458.8 1464.5,457.9 1465,454.3 1465.4,453.4 1465.8,452.2 1466.3,451.3 1466.7,452.5 1467.2,453.2 1467.6,451.3 1468,448.3 1468.5,447.8 1468.9,448.6 1469.4,447.4 1469.8,452.8 1470.2,450.5 1470.7,447.3 1471.1,444.3 1471.6,442.4 1472,443.5 1472.4,444.7 1472.9,446.9 1473.3,446.5 1473.8,443.8 1474.2,438.6 1474.6,440.3 1475.1,439.5 1475.5,439.5 1476,442.9 1476.4,443.6 1476.9,441.1 1477.3,436.5 1477.7,435.4 1478.2,436.7 1478.6,435.8 1479.1,440.8 1479.5,437.7 1479.9,438.8 1480.4,433.7 1480.8,432.8 1481.3,432.7 1481.7,433.5 1482.1,437.5 1482.6,433.6 1483,434.2 1483.5,430 1483.9,427.1 1484.3,429.1 1484.8,428.8 1485.2,432.7 1485.7,431.3 1486.1,431.1 1486.5,427.2 1487,426.9 1487.4,426.1 1487.9,425.6 1488.3,432.4 1488.7,430.2 1489.2,429.7 1489.6,425.5 1490.1,426.4 1490.5,423.4 1491,425.6 1491.4,428.4 1491.8,428.7 1492.3,429.1 1492.7,423.8 1493.2,424.5 1493.6,423.5 1494,423.4 1494.5,426.6 1494.9,426.6 1495.4,426.1 1495.8,419.8 1496.2,420.9 1496.7,422.7 1497.1,422.6 1497.6,426.3" stroke="#1f77b4" stroke-width="1.9"/>
<path d="M854.3,426.9 854.7,427.1 855.2,427.2 855.6,426.3 856.1,427 856.5,427 856.9,427 857.4,427.1 857.8,426.4 858.3,427 858.7,426.5 859.1,428.2 859.6,426.6 860,426.4 860.5,426.1 860.9,427 861.3,427.7 861.8,427 862.2,427.4 862.7,427.7 863.1,427.2 863.6,426.6 864,426.7 864.4,426.8 864.9,427.7 865.3,426.2 865.8,427.6 866.2,426.9 866.6,427.5 867.1,426.2 867.5,426.6 868,426.4 868.4,426.6 868.8,426.6 869.3,426.5 869.7,427.4 870.2,426.2 870.6,426.2 871,426.8 871.5,426.6 871.9,426.5 872.4,425.8 872.8,426.1 873.2,426.4 873.7,426.5 874.1,427 874.6,426.3 875,426 875.4,426.3 875.9,426.1 876.3,425.9 876.8,426.1 877.2,426.1 877.7,425.8 878.1,426.1 878.5,426.4 879,426.2 879.4,427.2 879.9,426 880.3,427 880.7,426.1 881.2,426.5 881.6,425.8 882.1,426.2 882.5,426.6 882.9,425.9 883.4,426.1 883.8,426 884.3,425.9 884.7,425.4 885.1,425.7 885.6,426 886,426.8 886.5,426.2 886.9,426 887.3,425.3 887.8,426 888.2,426.2 888.7,425.6 889.1,426.4 889.5,426.4 890,426.2 890.4,426.8 890.9,425.8 891.3,425.9 891.8,426.3 892.2,426.8 892.6,426.4 893.1,425.8 893.5,426.8 894,427.2 894.4,426.7 894.8,427.6 895.3,427.9 895.7,427.1 896.2,427.1 896.6,426.8 897,426.9 897.5,426.6 897.9,426.9 898.4,426.9 898.8,427.1 899.2,426.8 899.7,426.5 900.1,426.6 900.6,426.5 901,428.2 901.4,427.2 901.9,427 902.3,426.8 902.8,427.6 903.2,426.3 903.6,426.8 904.1,427.2 904.5,426.9 905,426.9 905.4,427.1 905.8,426.4 906.3,427 906.7,427.4 907.2,427.1 907.6,426.8 908.1,427.5 908.5,426.5 908.9,427.6 909.4,426.2 909.8,426.8 910.3,427.6 910.7,427.3 911.1,426.9 911.6,427.5 912,427.9 912.5,427.5 912.9,426.6 913.3,428.1 913.8,427.2 914.2,427.3 914.7,427.4 915.1,427.6 915.5,427.6 916,427.1 916.4,427.3 916.9,427.8 917.3,426.7 917.7,428.1 918.2,427.1 918.6,427.3 919.1,427 919.5,427.4 919.9,427 920.4,427.5 920.8,427 921.3,427.2 921.7,426.6 922.2,427.9 922.6,427.1 923,427.6 923.5,427.8 923.9,428 924.4,427.5 924.8,428.5 925.2,428.3 925.7,427.4 926.1,428.4 926.6,427.1 927,428 927.4,427.9 927.9,428.1 928.3,427.9 928.8,428.4 929.2,428.2 929.6,428 930.1,427.7 930.5,427.6 931,427.7 931.4,428.1 931.8,428.4 932.3,429.1 932.7,428 933.2,428 933.6,428.6 934,428.1 934.5,427.9 934.9,428.4 935.4,428 935.8,428.4 936.2,429.2 936.7,428.7 937.1,428.6 937.6,428.2 938,428.8 938.5,428.8 938.9,428.9 939.3,428.6 939.8,428.5 940.2,428.2 940.7,428.4 941.1,428.7 941.5,428.7 942,428.6 942.4,428.6 942.9,427.9 943.3,429.6 943.7,428.6 944.2,428.3 944.6,428.1 945.1,429.1 945.5,428.4 945.9,428.1 946.4,428.7 946.8,429.4 947.3,428.7 947.7,429.1 948.1,428.2 948.6,428.9 949,428.1 949.5,428.7 949.9,429 950.3,428.9 950.8,429.4 951.2,428.9 951.7,428.5 952.1,429.1 952.6,428.7 953,429.6 953.4,429.1 953.9,428.3 954.3,429.8 954.8,428.7 955.2,428.7 955.6,430.2 956.1,430.2 956.5,429.7 957,429 957.4,429.6 957.8,429.8 958.3,429.3 958.7,429.4 959.2,429.5 959.6,429.7 960,429.1 960.5,429.9 960.9,428.9 961.4,429.8 961.8,429.8 962.2,429.2 962.7,429.4 963.1,430.3 963.6,429.3 964,430 964.4,429.8 964.9,429.1 965.3,429.9 965.8,429.3 966.2,429.6 966.7,428.8 967.1,429.6 967.5,430 968,429.9 968.4,429.7 968.9,429.3 969.3,429.4 969.7,429.1 970.2,429.6 970.6,429.6 971.1,429.4 971.5,429.7 971.9,429.6 972.4,429.5 972.8,429.6 973.3,430 973.7,430.5 974.1,430.2 974.6,429.6 975,430.6 975.5,429.5 975.9,429.1 976.3,429.5 976.8,429.6 977.2,428.3 977.7,428.5 978.1,429.1 978.5,428.6 979,428.8 979.4,429.7 979.9,428.2 980.3,429.6 980.7,429.3 981.2,429.7 981.6,429.1 982.1,429.8 982.5,429.2 983,428.8 983.4,429.2 983.8,429.3 984.3,428.3 984.7,429.5 985.2,428.9 985.6,429.4 986,429.4 986.5,429.6 986.9,429.4 987.4,429.4 987.8,429.7 988.2,429.6 988.7,429.1 989.1,429.1 989.6,429.8 990,429.8 990.4,429.7 990.9,429.5 991.3,429.4 991.8,429.5 992.2,430 992.6,429.6 993.1,430.3 993.5,430.9 994,429.8 994.4,430.6 994.8,430.4 995.3,430.4 995.7,429.7 996.2,430.6 996.6,430 997.1,430.6 997.5,430.8 997.9,430.9 998.4,430.1 998.8,430.3 999.3,430 999.7,429.6 1000.1,430.4 1000.6,430.5 1001,430.9 1001.5,430.9 1001.9,431.2 1002.3,431.2 1002.8,430.2 1003.2,432 1003.7,431.1 1004.1,431 1004.5,431.2 1005,431.6 1005.4,431.2 1005.9,431.4 1006.3,431.8 1006.7,431.3 1007.2,431.4 1007.6,431.5 1008.1,430.9 1008.5,431.6 1008.9,431 1009.4,431.4 1009.8,431.2 1010.3,431.4 1010.7,431.4 1011.1,431.9 1011.6,431.9 1012,432 1012.5,431.7 1012.9,431.5 1013.4,431.4 1013.8,432.2 1014.2,432.1 1014.7,432.9 1015.1,433.3 1015.6,432.9 1016,432.8 1016.4,433 1016.9,433.1 1017.3,432.2 1017.8,432.7 1018.2,433.1 1018.6,431.2 1019.1,432.3 1019.5,432.4 1020,431.9 1020.4,432.7 1020.8,431.5 1021.3,432.8 1021.7,432.9 1022.2,432.3 1022.6,432.6 1023,431.7 1023.5,432.9 1023.9,432.6 1024.4,432.2 1024.8,432 1025.2,431.6 1025.7,431.9 1026.1,431.2 1026.6,432 1027,431.7 1027.5,431.5 1027.9,432.1 1028.3,432.2 1028.8,432.5 1029.2,432.6 1029.7,432.9 1030.1,432.7 1030.5,433.2 1031,432.3 1031.4,433.5 1031.9,431.9 1032.3,432 1032.7,432.2 1033.2,432.9 1033.6,433.3 1034.1,432.5 1034.5,432.9 1034.9,432.9 1035.4,433.3 1035.8,432.6 1036.3,433.4 1036.7,432.9 1037.1,433.6 1037.6,433.2 1038,432.9 1038.5,433.3 1038.9,433.3 1039.3,432.6 1039.8,433.1 1040.2,432.6 1040.7,434.1 1041.1,432.7 1041.6,432.7 1042,433.6 1042.4,433.5 1042.9,432.8 1043.3,433.8 1043.8,433.5 1044.2,432.9 1044.6,433.1 1045.1,432.9 1045.5,433.5 1046,433 1046.4,432.7 1046.8,433.1 1047.3,434.4 1047.7,433.1 1048.2,433.3 1048.6,433.7 1049,432.7 1049.5,433.8 1049.9,432.3 1050.4,433.4 1050.8,432.5 1051.2,433.1 1051.7,433.8 1052.1,433.2 1052.6,433.3 1053,433.6 1053.4,433.3 1053.9,433.8 1054.3,433.2 1054.8,433.1 1055.2,433.5 1055.6,433.7 1056.1,433.7 1056.5,433.1 1057,433 1057.4,433.6 1057.9,433.6 1058.3,432.8 1058.7,434.1 1059.2,433.3 1059.6,433.7 1060.1,434 1060.5,433.3 1060.9,433.5 1061.4,433 1061.8,432.7 1062.3,433.8 1062.7,433.2 1063.1,433.4 1063.6,434 1064,434.1 1064.5,433 1064.9,433.6 1065.3,433.4 1065.8,433.6 1066.2,433.5 1066.7,433.5 1067.1,433.2 1067.5,433.1 1068,433.8 1068.4,434 1068.9,433.6 1069.3,434.2 1069.7,433.8 1070.2,433.1 1070.6,432.7 1071.1,433.8 1071.5,434.3 1072,433.4 1072.4,434.9 1072.8,434.4 1073.3,433.4 1073.7,433.6 1074.2,434.6 1074.6,434.8 1075,433.8 1075.5,434.4 1075.9,435 1076.4,434.6 1076.8,435.1 1077.2,435.8 1077.7,434.9 1078.1,435.4 1078.6,435.5 1079,435.6 1079.4,434.9 1079.9,435.5 1080.3,434.9 1080.8,435.4 1081.2,434.7 1081.6,435.3 1082.1,435.4 1082.5,436 1083,435.3 1083.4,434.6 1083.8,433.7 1084.3,435.5 1084.7,435.3 1085.2,434.6 1085.6,434.7 1086,435.2 1086.5,435.1 1086.9,435.7 1087.4,435.3 1087.8,434.8 1088.3,434.5 1088.7,435.2 1089.1,435.3 1089.6,435 1090,434.9 1090.5,435.4 1090.9,435.8 1091.3,435.6 1091.8,435.3 1092.2,436.1 1092.7,436.4 1093.1,435.8 1093.5,435.7 1094,435.4 1094.4,435.8 1094.9,436.1 1095.3,435.8 1095.7,436.1 1096.2,436 1096.6,435.7 1097.1,435.8 1097.5,435 1097.9,436.1 1098.4,435.7 1098.8,435.8 1099.3,434.7 1099.7,435.3 1100.1,435.5 1100.6,435.1 1101,435.4 1101.5,435.7 1101.9,434.6 1102.4,434.6 1102.8,434.1 1103.2,434.5 1103.7,434.6 1104.1,434.8 1104.6,435.5 1105,434.9 1105.4,435.3 1105.9,434.9 1106.3,435 1106.8,435.5 1107.2,435.6 1107.6,434.9 1108.1,434.7 1108.5,435.6 1109,435.2 1109.4,434.9 1109.8,435.9 1110.3,435.7 1110.7,436.1 1111.2,435.1 1111.6,435.4 1112,435.6 1112.5,436.1 1112.9,435.4 1113.4,435 1113.8,435.4 1114.2,435.5 1114.7,435 1115.1,435.7 1115.6,435.2 1116,434.9 1116.5,435.4 1116.9,435.4 1117.3,435 1117.8,435 1118.2,435.1 1118.7,435 1119.1,435.1 1119.5,435.6 1120,435.4 1120.4,435 1120.9,434.9 1121.3,435 1121.7,436 1122.2,435.2 1122.6,435.5 1123.1,436 1123.5,435.9 1123.9,435.8 1124.4,435.5 1124.8,436.7 1125.3,436.2 1125.7,436.7 1126.1,436.5 1126.6,436.3 1127,436.3 1127.5,437.3 1127.9,437 1128.3,436.7 1128.8,437.7 1129.2,437 1129.7,437.2 1130.1,437.2 1130.5,437.2 1131,436.5 1131.4,437.4 1131.9,437.4 1132.3,436.5 1132.8,437.7 1133.2,437.7 1133.6,438 1134.1,436.9 1134.5,437.4 1135,437.2 1135.4,437.4 1135.8,437.6 1136.3,438 1136.7,438.1 1137.2,437.9 1137.6,438.2 1138,437.7 1138.5,438.9 1138.9,438.7 1139.4,439.1 1139.8,438.1 1140.2,439.2 1140.7,438.3 1141.1,438.1 1141.6,438.9 1142,438.4 1142.4,439.7 1142.9,439.1 1143.3,439.7 1143.8,439 1144.2,439.2 1144.6,439.3 1145.1,438.5 1145.5,438.7 1146,439 1146.4,439 1146.9,439.6 1147.3,438.9 1147.7,437.9 1148.2,439.2 1148.6,438.7 1149.1,439.1 1149.5,438.6 1149.9,438.9 1150.4,439.3 1150.8,439.8 1151.3,439.4 1151.7,438.7 1152.1,439 1152.6,438.7 1153,439.1 1153.5,439.7 1153.9,438.7 1154.3,438.8 1154.8,439.4 1155.2,439.2 1155.7,438.8 1156.1,439.2 1156.5,438.9 1157,439.1 1157.4,440.1 1157.9,439.1 1158.3,439.3 1158.7,439.7 1159.2,439.2 1159.6,439.6 1160.1,439.4 1160.5,439.3 1160.9,439.7 1161.4,440.6 1161.8,440.2 1162.3,439.6 1162.7,440.1 1163.2,440.3 1163.6,439.9 1164,439.5 1164.5,439.5 1164.9,439.3 1165.4,440 1165.8,439.7 1166.2,439.6 1166.7,439.7 1167.1,440.6 1167.6,439.6 1168,440 1168.4,439 1168.9,438.9 1169.3,438.8 1169.8,438.9 1170.2,439.4 1170.6,438.7 1171.1,439.3 1171.5,438.9 1172,439.5 1172.4,439.5 1172.8,439.2 1173.3,438.6 1173.7,439.3 1174.2,438.3 1174.6,438.1 1175,439.7 1175.5,439.2 1175.9,439.6 1176.4,439.1 1176.8,439.3 1177.3,439.2 1177.7,438.7 1178.1,438.7 1178.6,439.3 1179,439.5 1179.5,439.4 1179.9,439.6 1180.3,439.3 1180.8,439.5 1181.2,439.2 1181.7,440.1 1182.1,439.3 1182.5,439 1183,439.6 1183.4,440.3 1183.9,439.2 1184.3,440 1184.7,441.2 1185.2,439.8 1185.6,439.4 1186.1,439.6 1186.5,439.1 1186.9,439.4 1187.4,439.5 1187.8,440.4 1188.3,440.1 1188.7,439.3 1189.1,439.1 1189.6,439.8 1190,439.6 1190.5,439.1 1190.9,440.3 1191.4,440.4 1191.8,439.7 1192.2,439.5 1192.7,439.9 1193.1,440.7 1193.6,439.8 1194,440.8 1194.4,440 1194.9,440.6 1195.3,440.5 1195.8,440.2 1196.2,441 1196.6,440.4 1197.1,440.4 1197.5,440.8 1198,440.5 1198.4,441.5 1198.8,440.8 1199.3,441.1 1199.7,441.8 1200.2,441.7 1200.6,441.8 1201,442 1201.5,441.8 1201.9,441.3 1202.4,441.7 1202.8,441.5 1203.2,442.2 1203.7,441.6 1204.1,441.3 1204.6,441.4 1205,441.5 1205.4,441.9 1205.9,442.1 1206.3,441.8 1206.8,442.5 1207.2,442.5 1207.7,441.6 1208.1,442.2 1208.5,441 1209,442.2 1209.4,441.6 1209.9,442.3 1210.3,441.8 1210.7,442.3 1211.2,441.7 1211.6,441.9 1212.1,442.1 1212.5,441.6 1212.9,441.2 1213.4,442.2 1213.8,441.7 1214.3,441.9 1214.7,441.8 1215.1,441.1 1215.6,442.9 1216,442.2 1216.5,442.7 1216.9,442.3 1217.3,442.2 1217.8,440.8 1218.2,442.2 1218.7,441.6 1219.1,441.8 1219.5,442.6 1220,442 1220.4,441.3 1220.9,442 1221.3,441.7 1221.8,441.5 1222.2,442.4 1222.6,442.1 1223.1,441.6 1223.5,441.5 1224,442.2 1224.4,441.9 1224.8,441.9 1225.3,442.1 1225.7,441.7 1226.2,441.9 1226.6,441.9 1227,442.7 1227.5,442.4 1227.9,441.9 1228.4,442.6 1228.8,442 1229.2,442.4 1229.7,442.5 1230.1,441.8 1230.6,442.2 1231,442.5 1231.4,442.4 1231.9,442.3 1232.3,441.1 1232.8,443.1 1233.2,442.1 1233.6,442.2 1234.1,441.7 1234.5,442.4 1235,443.4 1235.4,441.8 1235.8,442.7 1236.3,442.2 1236.7,442.9 1237.2,442.6 1237.6,442.6 1238.1,442.1 1238.5,442.2 1238.9,442.9 1239.4,442.6 1239.8,442.8 1240.3,442.6 1240.7,442.5 1241.1,442.3 1241.6,443 1242,442.8 1242.5,442.6 1242.9,442.4 1243.3,442.9 1243.8,442 1244.2,442.6 1244.7,442.2 1245.1,442.6 1245.5,442.2 1246,443.7 1246.4,442.2 1246.9,443.2 1247.3,443.7 1247.7,443.3 1248.2,442.4 1248.6,443.2 1249.1,444 1249.5,443.8 1249.9,443.3 1250.4,444.5 1250.8,444 1251.3,443.9 1251.7,442.7 1252.2,443.8 1252.6,443.2 1253,444 1253.5,443.9 1253.9,443.3 1254.4,443.7 1254.8,444.8 1255.2,443.8 1255.7,443.9 1256.1,444.5 1256.6,444.3 1257,444.5 1257.4,444.8 1257.9,444.8 1258.3,444.8 1258.8,444.8 1259.2,445.5 1259.6,444.9 1260.1,445.6 1260.5,445.1 1261,445.2 1261.4,445.6 1261.8,445.1 1262.3,444.6 1262.7,444.9 1263.2,445.9 1263.6,445 1264,445.5 1264.5,445.6 1264.9,445.6 1265.4,445.4 1265.8,444.8 1266.3,445.4 1266.7,445.8 1267.1,446 1267.6,446.1 1268,445.6 1268.5,445.1 1268.9,446.5 1269.3,446.3 1269.8,446.5 1270.2,446.6 1270.7,446.2 1271.1,446.2 1271.5,446.9 1272,446.8 1272.4,445.8 1272.9,445.9 1273.3,446 1273.7,446.4 1274.2,446.4 1274.6,446.2 1275.1,446.8 1275.5,447 1275.9,446.4 1276.4,445.8 1276.8,446.6 1277.3,445.8 1277.7,445.9 1278.1,446.6 1278.6,446.2 1279,446.1 1279.5,445.9 1279.9,446 1280.3,446.7 1280.8,446.6 1281.2,445.6 1281.7,446.1 1282.1,446 1282.6,446 1283,445.5 1283.4,446.6 1283.9,445.7 1284.3,446.5 1284.8,445.8 1285.2,445.6 1285.6,446.5 1286.1,445.9 1286.5,446.2 1287,446 1287.4,445.8 1287.8,446.3 1288.3,446 1288.7,445.4 1289.2,445.3 1289.6,446.1 1290,446.3 1290.5,444.7 1290.9,445.3 1291.4,445.7 1291.8,446.1 1292.2,446 1292.7,445.6 1293.1,446.1 1293.6,444.9 1294,445.4 1294.4,445.4 1294.9,446 1295.3,446 1295.8,446 1296.2,445.4 1296.7,445.6 1297.1,445.5 1297.5,445.4 1298,445.6 1298.4,445 1298.9,445.7 1299.3,446.1 1299.7,445.6 1300.2,445 1300.6,445.9 1301.1,445.8 1301.5,445.8 1301.9,445.6 1302.4,445.8 1302.8,446.5 1303.3,446.3 1303.7,445.8 1304.1,446 1304.6,446.1 1305,446.2 1305.5,446.8 1305.9,447 1306.3,446.4 1306.8,447.3 1307.2,446.8 1307.7,447.6 1308.1,447 1308.5,447.1 1309,447.4 1309.4,446.6 1309.9,447.3 1310.3,447 1310.7,447.2 1311.2,447.3 1311.6,446.6 1312.1,447.5 1312.5,447.2 1313,447.8 1313.4,447.5 1313.8,447.2 1314.3,447.3 1314.7,447.5 1315.2,447.3 1315.6,446.8 1316,447.5 1316.5,447.7 1316.9,447.9 1317.4,446.7 1317.8,447.3 1318.2,447.7 1318.7,447.6 1319.1,448.3 1319.6,448.1 1320,448.2 1320.4,448.5 1320.9,448.9 1321.3,449 1321.8,448.3 1322.2,448.4 1322.6,449.4 1323.1,448.5 1323.5,448 1324,448.5 1324.4,448.1 1324.8,449.1 1325.3,448.3 1325.7,449.1 1326.2,449.1 1326.6,448.6 1327.1,447.5 1327.5,448.6 1327.9,449.1 1328.4,448.4 1328.8,448.7 1329.3,447.9 1329.7,449.3 1330.1,449.5 1330.6,448.9 1331,448.9 1331.5,448.9 1331.9,448.5 1332.3,449.6 1332.8,449.4 1333.2,449.1 1333.7,448.8 1334.1,448.9 1334.5,449.2 1335,449.4 1335.4,448.6 1335.9,448.7 1336.3,447.8 1336.7,448.9 1337.2,448 1337.6,449.3 1338.1,449 1338.5,449 1338.9,449.1 1339.4,449.3 1339.8,449.3 1340.3,449.3 1340.7,449.6 1341.2,449.2 1341.6,449.2 1342,449 1342.5,448.5 1342.9,448.9 1343.4,448.9 1343.8,449 1344.2,448.9 1344.7,448.9 1345.1,449.6 1345.6,449 1346,448.8 1346.4,449 1346.9,449.7 1347.3,450.1 1347.8,449.5 1348.2,449.4 1348.6,449.3 1349.1,449.8 1349.5,449.9 1350,449.4 1350.4,450.5 1350.8,449.8 1351.3,450 1351.7,450.8 1352.2,450.3 1352.6,450.7 1353,450.9 1353.5,451.4 1353.9,451.5 1354.4,450.6 1354.8,450.9 1355.2,450.3 1355.7,450.7 1356.1,450.4 1356.6,450.4 1357,450.9 1357.5,450.8 1357.9,450.1 1358.3,450.4 1358.8,450.6 1359.2,450.2 1359.7,450.1 1360.1,449.8 1360.5,451 1361,450.5 1361.4,449.9 1361.9,450.8 1362.3,450.4 1362.7,452.1 1363.2,450.5 1363.6,451.2 1364.1,452 1364.5,450.8 1364.9,450.7 1365.4,450.7 1365.8,450.7 1366.3,451.4 1366.7,451.6 1367.1,451.5 1367.6,451.4 1368,451.4 1368.5,451.8 1368.9,451.7 1369.3,451.5 1369.8,451.6 1370.2,450.9 1370.7,451 1371.1,452.4 1371.6,452.1 1372,452.4 1372.4,452.6 1372.9,452 1373.3,452.6 1373.8,452.7 1374.2,452.3 1374.6,451.8 1375.1,452.2 1375.5,452.1 1376,451.7 1376.4,451.7 1376.8,451.5 1377.3,451.1 1377.7,451.7 1378.2,451.2 1378.6,451.5 1379,450.9 1379.5,450.9 1379.9,451.7 1380.4,450.6 1380.8,451.4 1381.2,450.7 1381.7,451.2 1382.1,452 1382.6,452.2 1383,451.8 1383.4,451.8 1383.9,452.1 1384.3,451.7 1384.8,452.4 1385.2,452.1 1385.6,452.3 1386.1,453.1 1386.5,452 1387,452.7 1387.4,453.2 1387.9,452.5 1388.3,452.4 1388.7,451.7 1389.2,452.3 1389.6,451.8 1390.1,451.8 1390.5,452.1 1390.9,452.1 1391.4,452.6 1391.8,453 1392.3,452.5 1392.7,452.3 1393.1,452.6 1393.6,452.9 1394,453.2 1394.5,452.2 1394.9,452.5 1395.3,453.1 1395.8,452.4 1396.2,452.3 1396.7,452.6 1397.1,452.2 1397.5,452.3 1398,453.2 1398.4,452.6 1398.9,452.3 1399.3,452.2 1399.7,451.8 1400.2,453.1 1400.6,452.4 1401.1,452.2 1401.5,452.1 1402,451.8 1402.4,452.8 1402.8,452.7 1403.3,453.3 1403.7,452.6 1404.2,453.4 1404.6,452.5 1405,452.9 1405.5,453 1405.9,454.3 1406.4,453.7 1406.8,453 1407.2,454.1 1407.7,453.6 1408.1,453.8 1408.6,453.2 1409,453.5 1409.4,453.5 1409.9,453.9 1410.3,453.8 1410.8,454 1411.2,453.7 1411.6,454 1412.1,453.4 1412.5,454.4 1413,453.3 1413.4,453.8 1413.8,453.2 1414.3,453.6 1414.7,453.2 1415.2,453 1415.6,453.8 1416.1,453.3 1416.5,453.4 1416.9,453 1417.4,453.8 1417.8,453.3 1418.3,453.2 1418.7,453.5 1419.1,453.2 1419.6,454 1420,452.7 1420.5,453.4 1420.9,453.1 1421.3,454.1 1421.8,454.1 1422.2,453.8 1422.7,454.5 1423.1,453.8 1423.5,454.2 1424,454.1 1424.4,453.9 1424.9,454 1425.3,453 1425.7,453.6 1426.2,454.6 1426.6,454 1427.1,455 1427.5,454.4 1427.9,455.2 1428.4,455.4 1428.8,454.5 1429.3,455.3 1429.7,455.4 1430.1,455.4 1430.6,455.5 1431,454.9 1431.5,455.8 1431.9,455.9 1432.4,455.2 1432.8,456.2 1433.2,455.7 1433.7,455.2 1434.1,455.6 1434.6,455.8 1435,456 1435.4,456 1435.9,456 1436.3,455.6 1436.8,455.2 1437.2,455.2 1437.6,456 1438.1,456.1 1438.5,455.5 1439,456.6 1439.4,455.9 1439.8,455.8 1440.3,456.3 1440.7,456.3 1441.2,455.8 1441.6,456.8 1442,456.5 1442.5,456.5 1442.9,456.2 1443.4,456.8 1443.8,455.7 1444.2,456.3 1444.7,456.4 1445.1,456.6 1445.6,456.7 1446,456.9 1446.5,456 1446.9,456.5 1447.3,456.2 1447.8,455.9 1448.2,456.6 1448.7,455.9 1449.1,456.4 1449.5,456.9 1450,456.1 1450.4,457.1 1450.9,456.1 1451.3,456.8 1451.7,456.5 1452.2,456 1452.6,456.5 1453.1,456.9 1453.5,456.7 1453.9,457 1454.4,457.1 1454.8,456.5 1455.3,456.1 1455.7,455.9 1456.1,456.8 1456.6,456.3 1457,456.1 1457.5,456 1457.9,456.5 1458.3,455.7 1458.8,456.6 1459.2,455.6 1459.7,455.5 1460.1,456.9 1460.5,455.9 1461,455.8 1461.4,455.8 1461.9,456.4 1462.3,456.1 1462.8,456.7 1463.2,456 1463.6,456 1464.1,456.3 1464.5,456.4 1465,456.3 1465.4,456.3 1465.8,456.5 1466.3,456.4 1466.7,456.3 1467.2,456.9 1467.6,457.5 1468,455.9 1468.5,455.6 1468.9,457 1469.4,456.8 1469.8,456.5 1470.2,456.4 1470.7,456.6 1471.1,456.3 1471.6,456.9 1472,456.7 1472.4,456.7 1472.9,457.3 1473.3,456.7 1473.8,457.3 1474.2,457.1 1474.6,457.7 1475.1,457.3 1475.5,458.2 1476,457.7 1476.4,459.2 1476.9,458.3 1477.3,457.8 1477.7,458.3 1478.2,458.1 1478.6,458.6 1479.1,457.1 1479.5,457.6 1479.9,457.8 1480.4,457.6 1480.8,457.7 1481.3,457.7 1481.7,458.2 1482.1,458.9 1482.6,458.4 1483,457.7 1483.5,457.9 1483.9,458.4 1484.3,458.2 1484.8,458.6 1485.2,458.5 1485.7,459.7 1486.1,459.2 1486.5,458.6 1487,459.1 1487.4,458.9 1487.9,458.1 1488.3,458.9 1488.7,458.7 1489.2,459.1 1489.6,458.9 1490.1,458.6 1490.5,459.2 1491,459.8 1491.4,458.2 1491.8,458.7 1492.3,458.2 1492.7,458.9 1493.2,459.1 1493.6,458.9 1494,459 1494.5,459.9 1494.9,459.2 1495.4,459.8 1495.8,459.4 1496.2,458.3 1496.7,459.4 1497.1,458.6 1497.6,459.3" stroke="#ff7f0e" stroke-width="1.6"/>
</g>
<rect x="854.3" y="382.0" width="643.7" height="118.0" fill="none" stroke="#333" stroke-width="0.9"/>
<line x1="850.8" x2="854.3" y1="388.8" y2="388.8" stroke="#333" stroke-width="0.8"/>
<text transform="translate(847.5,391.9) scale(1.35,1)" font-size="8.1" text-anchor="end" fill="#262626" >2.0</text>
<line x1="850.8" x2="854.3" y1="406.2" y2="406.2" stroke="#333" stroke-width="0.8"/>
<text transform="translate(847.5,409.4) scale(1.35,1)" font-size="8.1" text-anchor="end" fill="#262626" >1.5</text>
<line x1="850.8" x2="854.3" y1="423.8" y2="423.8" stroke="#333" stroke-width="0.8"/>
<text transform="translate(847.5,426.9) scale(1.35,1)" font-size="8.1" text-anchor="end" fill="#262626" >1.0</text>
<line x1="850.8" x2="854.3" y1="441.2" y2="441.2" stroke="#333" stroke-width="0.8"/>
<text transform="translate(847.5,444.4) scale(1.35,1)" font-size="8.1" text-anchor="end" fill="#262626" >0.5</text>
<line x1="850.8" x2="854.3" y1="458.8" y2="458.8" stroke="#333" stroke-width="0.8"/>
<text transform="translate(847.5,461.9) scale(1.35,1)" font-size="8.1" text-anchor="end" fill="#262626" >0.0</text>
<line x1="850.8" x2="854.3" y1="476.2" y2="476.2" stroke="#333" stroke-width="0.8"/>
<text transform="translate(847.5,479.4) scale(1.35,1)" font-size="8.1" text-anchor="end" fill="#262626" >−0.5</text>
<line x1="850.8" x2="854.3" y1="493.8" y2="493.8" stroke="#333" stroke-width="0.8"/>
<text transform="translate(847.5,496.9) scale(1.35,1)" font-size="8.1" text-anchor="end" fill="#262626" >−1.0</text>
<line x1="854.3" x2="854.3" y1="500.0" y2="503.5" stroke="#333" stroke-width="0.8"/>
<text transform="translate(854.3,512.2) scale(1.35,1)" font-size="8.1" text-anchor="middle" fill="#262626" >2022</text>
<line x1="1015.2" x2="1015.2" y1="500.0" y2="503.5" stroke="#333" stroke-width="0.8"/>
<text transform="translate(1015.2,512.2) scale(1.35,1)" font-size="8.1" text-anchor="middle" fill="#262626" >2023</text>
<line x1="1176.2" x2="1176.2" y1="500.0" y2="503.5" stroke="#333" stroke-width="0.8"/>
<text transform="translate(1176.2,512.2) scale(1.35,1)" font-size="8.1" text-anchor="middle" fill="#262626" >2024</text>
<line x1="1337.1" x2="1337.1" y1="500.0" y2="503.5" stroke="#333" stroke-width="0.8"/>
<text transform="translate(1337.1,512.2) scale(1.35,1)" font-size="8.1" text-anchor="middle" fill="#262626" >2025</text>
<line x1="1498" x2="1498" y1="500.0" y2="503.5" stroke="#333" stroke-width="0.8"/>
<text transform="translate(1498,512.2) scale(1.35,1)" font-size="8.1" text-anchor="middle" fill="#262626" >2026</text>
<line x1="894.5" x2="894.5" y1="500.0" y2="502.0" stroke="#333" stroke-width="0.7"/>
<line x1="934.8" x2="934.8" y1="500.0" y2="502.0" stroke="#333" stroke-width="0.7"/>
<line x1="975" x2="975" y1="500.0" y2="502.0" stroke="#333" stroke-width="0.7"/>
<line x1="1055.5" x2="1055.5" y1="500.0" y2="502.0" stroke="#333" stroke-width="0.7"/>
<line x1="1095.7" x2="1095.7" y1="500.0" y2="502.0" stroke="#333" stroke-width="0.7"/>
<line x1="1135.9" x2="1135.9" y1="500.0" y2="502.0" stroke="#333" stroke-width="0.7"/>
<line x1="1216.4" x2="1216.4" y1="500.0" y2="502.0" stroke="#333" stroke-width="0.7"/>
<line x1="1256.6" x2="1256.6" y1="500.0" y2="502.0" stroke="#333" stroke-width="0.7"/>
<line x1="1296.8" x2="1296.8" y1="500.0" y2="502.0" stroke="#333" stroke-width="0.7"/>
<line x1="1377.3" x2="1377.3" y1="500.0" y2="502.0" stroke="#333" stroke-width="0.7"/>
<line x1="1417.5" x2="1417.5" y1="500.0" y2="502.0" stroke="#333" stroke-width="0.7"/>
<line x1="1457.8" x2="1457.8" y1="500.0" y2="502.0" stroke="#333" stroke-width="0.7"/>
<text transform="translate(1176.2,523.2) scale(1.35,1)" font-size="8.1" text-anchor="middle" fill="#262626" >date</text>
<rect x="860.5" y="244.5" width="175" height="26.5" rx="2" fill="#fff" fill-opacity="0.8" stroke="#d2d2d2" stroke-width="0.8"/>
<line x1="865" x2="888" y1="250.5" y2="250.5" stroke="#1f77b4" stroke-width="1.3"/>
<line x1="865" x2="888" y1="262.5" y2="262.5" stroke="#ff7f0e" stroke-width="1.3"/>
<text transform="translate(896.5,254) scale(1.35,1)" font-size="8.55" text-anchor="start" fill="#262626" >Original Demand</text>
<text transform="translate(896.5,266) scale(1.35,1)" font-size="8.55" text-anchor="start" fill="#262626" >Deseasonised Demand</text>
<rect x="1327" y="386.5" width="165.5" height="26.5" rx="2" fill="#fff" fill-opacity="0.8" stroke="#d2d2d2" stroke-width="0.8"/>
<line x1="1331" x2="1354" y1="392.5" y2="392.5" stroke="#1f77b4" stroke-width="1.3"/>
<line x1="1331" x2="1354" y1="404.5" y2="404.5" stroke="#ff7f0e" stroke-width="1.3"/>
<text transform="translate(1363,396) scale(1.35,1)" font-size="8.55" text-anchor="start" fill="#262626" >Original Charge</text>
<text transform="translate(1363,408) scale(1.35,1)" font-size="8.55" text-anchor="start" fill="#262626" >Deseasonised Charge</text>
<text transform="translate(848,243) scale(1.3,1)" font-size="9" text-anchor="end" fill="#cfcfcf" font-family="Liberation Serif, serif">1.0</text>
<text transform="translate(848,295.5) scale(1.3,1)" font-size="9" text-anchor="end" fill="#cfcfcf" font-family="Liberation Serif, serif">0.8</text>
<text transform="translate(848,348.5) scale(1.3,1)" font-size="9" text-anchor="end" fill="#cfcfcf" font-family="Liberation Serif, serif">0.6</text>
<text transform="translate(848,400) scale(1.3,1)" font-size="9" text-anchor="end" fill="#cfcfcf" font-family="Liberation Serif, serif">0.4</text>
<text transform="translate(848,452) scale(1.3,1)" font-size="9" text-anchor="end" fill="#cfcfcf" font-family="Liberation Serif, serif">0.2</text>
<text transform="translate(848,504.5) scale(1.3,1)" font-size="9" text-anchor="end" fill="#cfcfcf" font-family="Liberation Serif, serif">0.0</text>
<text transform="translate(984,511.5) scale(1.3,1)" font-size="9" text-anchor="middle" fill="#cfcfcf" font-family="Liberation Serif, serif">0.2</text>
<text transform="translate(1111,511.5) scale(1.3,1)" font-size="9" text-anchor="middle" fill="#cfcfcf" font-family="Liberation Serif, serif">0.4</text>
<text transform="translate(1240,511.5) scale(1.3,1)" font-size="9" text-anchor="middle" fill="#cfcfcf" font-family="Liberation Serif, serif">0.6</text>
<text transform="translate(1368,511.5) scale(1.3,1)" font-size="9" text-anchor="middle" fill="#cfcfcf" font-family="Liberation Serif, serif">0.8</text>
<path d="M870.1,573.7h0M870.7,573.9h0M870.1,575.6h0M872.1,574h0M871.9,575.1h0M872.4,575.5h0M873.1,575.5h0M872.8,576.8h0M873.8,576.5h0M873.7,577.6h0M875.7,576.1h0M875.4,577.4h0M875.2,578.5h0M877.3,576.9h0M877.1,578.1h0M877.9,578h0M878.5,578.3h0M878.8,578.9h0M878.9,579.8h0M879.1,580.6h0M879.2,581.5h0M880.8,580.5h0M880.3,582h0M881.3,581.8h0M882.8,581h0M883.3,581.4h0M883.7,582h0M883.1,583.7h0M884.9,582.5h0M884,584.6h0M885.8,583.4h0M886.1,584.2h0M886.9,584.2h0M887.5,584.6h0M887.2,586h0M887.4,586.9h0M889,585.9h0M888.4,587.8h0M888.9,588.2h0M889.9,588.1h0M889.5,589.7h0M890.7,589.3h0M890.4,590.8h0M891.7,590.3h0M893.4,589.2h0M894,589.6h0M894.7,589.8h0M894.6,591.2h0M895.2,591.5h0M894.6,593.4h0M896.9,591.7h0M894.4,595.9h0M895,596.4h0M895.2,597.1h0M897,596h0M895.9,598.5h0M899.5,595.1h0M897.4,598.8h0M900.5,596h0M900.4,597.2h0M901.6,596.8h0M902.2,597.1h0M903.2,596.9h0M902,599.5h0M903,599.3h0M901.6,602.1h0M903.6,600.6h0M901.5,604.3h0M907.6,597.8h0M907.9,598.3h0M902.9,605.7h0M902.9,606.7h0M906,603.9h0M907.4,603.2h0M907.6,603.9h0M907.1,605.5h0M909.6,603.5h0M908.6,605.7h0M909.1,606.1h0M907.1,609.6h0M911.4,605.2h0M908.5,609.9h0M914.3,603.6h0M912.2,607.2h0M911.9,608.6h0M914.4,606.4h0M916.4,604.8h0M912.2,611.1h0M914.3,609.5h0M918.4,605.2h0M918.2,606.5h0M915.8,610.5h0M916.1,611h0M919.4,607.9h0M915.6,613.6h0M916.3,613.6h0M919.4,610.7h0M919.9,611h0M920.4,611.3h0M921.9,610.3h0M923,609.9h0M921.1,613.2h0M921.3,613.9h0M924.2,611.2h0M922,614.8h0M925.2,611.7h0M925,612.9h0M926,612.5h0M925.7,613.8h0M924.3,616.5h0M926.9,614.1h0M926.7,615.3h0M926.3,616.7h0M926.6,617.2h0M927.6,616.8h0M927.8,617.5h0M928.4,617.7h0M930.6,615.8h0M931.3,615.8h0M931.9,616h0M931.5,617.4h0M932,617.6h0M931.6,619h0M932.2,619.1h0M933.8,617.9h0M934,618.6h0M934.5,618.8h0M935.4,618.7h0M936,618.8h0M936.3,619.2h0M935.5,621.2h0M937.1,620.1h0M938.2,619.6h0M938.7,619.8h0M939.6,619.6h0M939.1,621.2h0M939.6,621.4h0M938.7,623.5h0M940.6,622h0M941.3,622h0M943,620.8h0M943.5,621.1h0M941,625.1h0M941.8,625.1h0M943.2,624.2h0M945.3,622.4h0M943.2,626h0M946.4,622.9h0M946.1,624.2h0M948,622.8h0M945.9,626.3h0M946.7,626.2h0M945.4,628.8h0M948.4,626.1h0M950.3,624.6h0M949.4,626.7h0M949.9,627h0M952.8,624.4h0M952.4,625.8h0M950.2,629.5h0M954.6,625h0M953.8,627h0M951.6,630.7h0M951.5,631.8h0M955.1,628.4h0M954.5,630.1h0M955.6,629.7h0M953,634h0M957.8,629h0M958.9,628.5h0M956.4,632.7h0M956.2,634h0M961.3,628.7h0M961.8,629.1h0M956.5,636.8h0M959.8,633.6h0M959.6,634.9h0M959.1,636.6h0M961.2,635h0M962.7,634.2h0M961.2,637.1h0M961.4,638h0M965.5,633.9h0M964.7,636h0M963,639.2h0M962.6,640.8h0M964.5,639.5h0M968.3,635.8h0M968.2,637.1h0M965.1,642h0M967.8,639.7h0M965.1,644.2h0M970.4,638.6h0M971.1,639h0M967.9,644.1h0M969.1,643.7h0M969.4,644.4h0M969.4,645.5h0M972.2,643.2h0M971.4,645.4h0M970.4,647.7h0M971.8,647.1h0M974,645.5h0M974.6,645.8h0M972.8,649.3h0M975.1,647.5h0M975.9,647.7h0M976.4,648.2h0M976.9,648.7h0M977.7,648.8h0M977.1,650.8h0M978.9,649.8h0M978.4,651.5h0M978.1,653h0M979.9,652h0M979.8,653.2h0M980.8,653.1h0M980.9,654.2h0M981.6,654.4h0M982.2,654.8h0M983,655.1h0M982.8,656.4h0M984,656.2h0M983.7,657.7h0M985.3,656.9h0M984.7,658.8h0M984.8,659.8h0M985.2,660.5h0M987,659.4h0M986.8,660.8h0M988,660.4h0M987.8,661.9h0M988.6,662h0M990.5,660.8h0M991.3,661h0M988.7,665.3h0M992.5,661.7h0M991.4,664.2h0M992.9,663.6h0M994.2,663h0M991.6,667.5h0M992.9,666.9h0M995.7,664.5h0M994.6,667.1h0M996.9,665.3h0M997.2,666.1h0M998.6,665.4h0M997.4,668.1h0M994.6,672.6h0M999.8,667.3h0M996.2,672.9h0M996.5,673.6h0M998.3,672.5h0M997.8,674.2h0M997.9,675.2h0M1001.5,671.8h0M1003.8,670h0M1000.1,675.7h0M1001.3,675.2h0M1003.6,673.4h0M1001.8,676.7h0M1003.7,675.5h0M1007,672.4h0M1002.1,679.6h0M1005.5,676.4h0M1003.8,679.6h0M1008.1,675.1h0M1004.8,680.4h0M1009.4,675.6h0M1007.1,679.5h0M1011.2,675.4h0M1007.9,680.6h0M1009.3,679.9h0M1007.2,683.5h0M1008.9,682.4h0M1010.3,681.6h0M1013.9,678.1h0M1012.5,680.9h0M1014.4,679.6h0M1015.1,679.6h0M1011,685.8h0M1012.9,684.4h0M1016.4,680.9h0M1016.4,681.9h0M1015.9,683.6h0M1015.5,685h0M1016.5,684.7h0M1014.6,688.1h0M1015.7,687.6h0M1017.4,686.5h0M1016.9,688h0M1017.9,687.7h0M1020.9,684.9h0M1021.2,685.4h0M1021.6,686h0M1021.4,687.1h0M1023.2,685.8h0M1021.2,689.2h0M1023.1,687.8h0M1022.9,688.9h0M1025.1,687.2h0M1023.8,689.7h0M1024,690.3h0M1025.9,688.8h0M1026.5,689h0M1026.8,689.6h0M1027.4,689.8h0M1026.7,691.6h0M1028,690.8h0M1028.4,691.3h0M1029.6,690.7h0M1029.2,692.1h0M1029.5,692.7h0M1030.1,692.9h0M1030.9,692.7h0M1032.2,692h0M1032.3,692.9h0M1032.9,693.1h0M1032.9,693.9h0M1033.2,694.4h0M1034.9,693.2h0M1034.4,694.8h0M1034.1,696.1h0M1036.2,694.3h0M1035.2,696.6h0M1036.2,696.2h0M1037.4,695.7h0M1038.6,695.1h0M1036.4,698.8h0M1039.1,696.3h0M1037.8,699h0M1040.1,697h0M1040.6,697.4h0M1040.7,698.1h0M1040.8,698.9h0M1041.9,698.6h0M1044.3,696.5h0M1042,700.3h0M1043.1,700h0M1041.9,702.4h0M1043.7,701.2h0M1042.3,703.8h0M1047.5,698.2h0M1044.9,702.5h0M1048.8,698.6h0M1044.6,704.8h0M1048.3,701.2h0M1048.5,702h0M1049.4,701.9h0M1050.7,701.2h0M1046.6,707.3h0M1051.4,702.3h0M1047.3,708.6h0M1049.6,706.7h0M1053.8,702.5h0M1052.4,705.2h0M1055.4,702.5h0M1055.4,703.5h0M1053,707.7h0M1052.5,709.3h0M1052.5,710.4h0M1051.9,712.2h0M1057,706.8h0M1058.1,706.5h0M1053.5,713.4h0M1057,710h0M1059.8,707.6h0M1059,709.7h0M1058.1,712h0M1062,708.1h0M1059.1,712.8h0M1059,714.1h0M1060.6,713.1h0M1060.2,714.8h0M1061,714.9h0M1062.2,714.6h0M1060.3,718.1h0M1063.8,714.8h0M1064.2,715.4h0M1065.4,715.1h0M1063.4,718.7h0M1062.9,720.4h0M1066.8,716.7h0M1065.7,719.3h0M1067.3,718.4h0M1066.3,720.8h0M1067.2,720.9h0M1067.4,721.8h0M1068.8,721.1h0M1070,720.9h0M1068.9,723.4h0M1069.8,723.5h0M1070.8,723.4h0M1072.1,723h0M1071.6,724.8h0M1071.2,726.4h0M1073,725.3h0M1073.4,726.1h0M1075.2,724.9h0M1074.7,726.8h0M1074,728.8h0M1075.8,727.7h0M1075.2,729.7h0M1076.3,729.5h0M1076.3,730.8h0M1077.8,730.1h0M1077.6,731.5h0M1079.3,730.5h0M1078.6,732.6h0M1080.5,731.5h0M1080.9,732.1h0M1080.7,733.6h0M1081.1,734.3h0M1081.5,735h0M1082.8,734.6h0M1082,736.8h0M1082.9,736.8h0M1082.6,738.4h0M1084.1,737.7h0M1083.9,739.2h0M1086.6,737h0M1085.7,739.3h0M1085.4,740.9h0M1086,741.2h0M1086.2,742.3h0M1086.3,743.3h0M1086.6,744.1h0M1089.8,741.2h0M1087.7,745.1h0M1091.5,741.5h0M1092.6,741.2h0M1093,742h0M1089.8,747h0M1093.5,743.6h0M1093,745.4h0M1095.4,743.5h0M1092.4,748.5h0M1094.6,746.8h0M1095.2,747.2h0M1093.2,750.9h0M1096.2,748.3h0M1097.5,747.8h0M1098.5,747.6h0M1099.4,747.7h0M1094.6,754.8h0M1099.8,749.3h0M1097.5,753.4h0M1100.9,750.2h0M1097.3,755.8h0M1099.3,754.4h0M1100.1,754.6h0M1102.5,752.6h0M1102.5,753.7h0M1104.4,752.4h0M1099.4,759.8h0M1101.8,757.8h0M1105.4,754.4h0M1102.5,759.1h0M1107.1,754.4h0M1104,759.3h0M1106.9,756.7h0M1103.4,762.2h0M1109.6,755.5h0M1104.8,762.5h0M1107.3,760.5h0M1107.7,761h0M1107.7,762.1h0M1109.6,760.6h0M1110.1,761.1h0M1112.2,759.5h0M1113.7,758.7h0M1113.2,760.3h0M1113.2,761.3h0M1110.9,765.2h0M1111.5,765.4h0M1111,767h0M1112,766.8h0M1115.9,762.9h0M1113,767.6h0M1114.5,766.6h0M1115.6,766.3h0M1115.2,767.8h0M1116.5,767.2h0M1116.7,767.9h0M1117.8,767.5h0M1117.5,768.8h0M1117.6,769.7h0M1121,766.5h0M1120.9,767.5h0M1121.5,767.8h0M1120.6,769.9h0M1122.9,768h0M1123.1,768.7h0M1122.6,770.3h0M1122.8,771h0M1124.4,770h0M1123.4,772.2h0M1125,771.2h0M1126,770.9h0M1126.5,771.1h0M1127.1,771.5h0M1126.8,772.8h0M1126.6,774h0M1127.6,773.6h0M1128,774.2h0M1129.1,773.8h0M1129.9,773.7h0M1131,773.4h0M1130.1,775.5h0M1130.7,775.7h0M1130.5,776.9h0M1132.9,774.9h0M1132.5,776.3h0M1132.2,777.6h0M1133.5,777h0M1134,777.4h0M1135.7,776.3h0M1134.1,779.2h0M1135.6,778.3h0M1135.9,779h0" stroke="#1f77b4" stroke-width="7.2" stroke-linecap="round" fill="none"/>
<path d="M869.5,567.4 1136.1,774.4" stroke="#bcbd22" stroke-width="1.9" fill="none"/>
<rect x="856.8" y="555.8" width="293.5" height="237" fill="none" stroke="#333" stroke-width="0.9"/>
<line x1="875.1" x2="875.1" y1="792.8" y2="796.8" stroke="#333" stroke-width="0.8"/>
<text x="875.1" y="809.5" font-size="11.3" text-anchor="middle" fill="#262626">0.0</text>
<line x1="852.8" x2="856.8" y1="778" y2="778" stroke="#333" stroke-width="0.8"/>
<text x="849.5" y="782.2" font-size="11.3" text-anchor="end" fill="#262626">0.0</text>
<line x1="928.6" x2="928.6" y1="792.8" y2="796.8" stroke="#333" stroke-width="0.8"/>
<text x="928.6" y="809.5" font-size="11.3" text-anchor="middle" fill="#262626">0.2</text>
<line x1="852.8" x2="856.8" y1="737.4" y2="737.4" stroke="#333" stroke-width="0.8"/>
<text x="849.5" y="741.6" font-size="11.3" text-anchor="end" fill="#262626">0.2</text>
<line x1="982.2" x2="982.2" y1="792.8" y2="796.8" stroke="#333" stroke-width="0.8"/>
<text x="982.2" y="809.5" font-size="11.3" text-anchor="middle" fill="#262626">0.4</text>
<line x1="852.8" x2="856.8" y1="696.7" y2="696.7" stroke="#333" stroke-width="0.8"/>
<text x="849.5" y="700.9" font-size="11.3" text-anchor="end" fill="#262626">0.4</text>
<line x1="1035.7" x2="1035.7" y1="792.8" y2="796.8" stroke="#333" stroke-width="0.8"/>
<text x="1035.7" y="809.5" font-size="11.3" text-anchor="middle" fill="#262626">0.6</text>
<line x1="852.8" x2="856.8" y1="656.1" y2="656.1" stroke="#333" stroke-width="0.8"/>
<text x="849.5" y="660.3" font-size="11.3" text-anchor="end" fill="#262626">0.6</text>
<line x1="1089.3" x2="1089.3" y1="792.8" y2="796.8" stroke="#333" stroke-width="0.8"/>
<text x="1089.3" y="809.5" font-size="11.3" text-anchor="middle" fill="#262626">0.8</text>
<line x1="852.8" x2="856.8" y1="615.4" y2="615.4" stroke="#333" stroke-width="0.8"/>
<text x="849.5" y="619.6" font-size="11.3" text-anchor="end" fill="#262626">0.8</text>
<line x1="1142.8" x2="1142.8" y1="792.8" y2="796.8" stroke="#333" stroke-width="0.8"/>
<text x="1142.8" y="809.5" font-size="11.3" text-anchor="middle" fill="#262626">1.0</text>
<line x1="852.8" x2="856.8" y1="574.8" y2="574.8" stroke="#333" stroke-width="0.8"/>
<text x="849.5" y="579" font-size="11.3" text-anchor="end" fill="#262626">1.0</text>
<text x="1002" y="550.5" font-size="13.9" text-anchor="middle" fill="#262626">Charge Elasticity</text>
<text x="1002" y="824.5" font-size="11.3" text-anchor="middle" fill="#262626">Charge</text>
<text transform="translate(823.5,677) rotate(-90)" font-size="11.3" text-anchor="middle" fill="#262626">Demand</text>
<rect x="1043.5" y="561" width="100" height="37" rx="2" fill="#fff" fill-opacity="0.8" stroke="#d2d2d2" stroke-width="0.8"/>
<line x1="1048" x2="1071" y1="571.5" y2="571.5" stroke="#bcbd22" stroke-width="1.9"/>
<circle cx="1060" cy="588.5" r="3.7" fill="#1f77b4"/>
<text x="1080.5" y="575.5" font-size="11.3" fill="#262626">Estimated</text>
<text x="1080.5" y="592" font-size="11.3" fill="#262626">Observed</text>
<path d="M1219.3,780.1h0M1219.7,779.4h0M1220.3,778.7h0M1221.3,778.1h0M1222,777.4h0M1223,776.9h0M1223.9,776.3h0M1221,774.5h0M1224.6,774.7h0M1222.7,773.3h0M1224.3,772.9h0M1222.9,771.6h0M1224.6,771.3h0M1224.7,770.4h0M1222.4,768.8h0M1225.9,769h0M1223,767.3h0M1224.9,767h0M1224.1,765.9h0M1225.8,765.5h0M1224.5,764.2h0M1226.4,763.9h0M1227.2,763.3h0M1226.8,762.3h0M1228,761.8h0M1226.5,760.5h0M1227.8,760h0M1227.2,758.9h0M1229.3,758.7h0M1226.4,756.9h0M1229.6,757h0M1226.5,755.2h0M1230,755.4h0M1227.3,753.7h0M1229.9,753.6h0M1227.8,752.1h0M1230.7,752.1h0M1228.8,750.7h0M1228.5,749.7h0M1231.8,749.8h0M1230.9,748.7h0M1232.2,748.2h0M1232.2,747.4h0M1229.8,745.7h0M1230,744.9h0M1232.6,744.9h0M1233.4,744.2h0M1231.1,742.6h0M1234,742.7h0M1231,740.9h0M1234.1,740.9h0M1233.8,740h0M1233.1,738.9h0M1233.3,738.1h0M1233.3,737.2h0M1234.2,736.6h0M1234.5,735.8h0M1233.5,734.6h0M1233.1,733.7h0M1235.3,733.5h0M1234.3,732.3h0M1234.2,731.4h0M1235,730.7h0M1234.9,729.7h0M1237.9,730h0M1236.1,728.4h0M1237.8,728.2h0M1235.7,726.4h0M1238.5,726.6h0M1239.9,726.3h0M1239.4,725.2h0M1239.8,724.5h0M1238.8,723.2h0M1239.4,722.5h0M1241.3,722.4h0M1239.1,720.6h0M1240.4,720.2h0M1241.6,719.8h0M1240.4,718.4h0M1241.3,717.8h0M1240,716.4h0M1242.7,716.6h0M1241.1,715.1h0M1241.7,714.4h0M1241.9,713.6h0M1244.1,713.6h0M1243.2,712.3h0M1245.7,712.5h0M1245.3,711.4h0M1246.1,710.8h0M1245.6,709.7h0M1244.2,708.2h0M1244.9,707.6h0M1245.3,706.9h0M1245,705.9h0M1246.3,705.5h0M1247.9,705.2h0M1247.2,704h0M1246.2,702.7h0M1248.6,702.8h0M1249.8,702.4h0M1248.3,700.9h0M1247.4,699.6h0M1249.9,699.7h0M1249.5,698.6h0M1250.8,698.3h0M1250.4,697.2h0M1251.7,696.8h0M1248.8,694.7h0M1251.5,694.9h0M1251.6,694.1h0M1252.6,693.6h0M1250.8,692h0M1252.5,691.8h0M1251.7,690.5h0M1253.8,690.5h0M1251.6,688.7h0M1252.2,688h0M1255.4,688.4h0M1255,687.4h0M1253.5,685.8h0M1254.1,685.2h0M1254.8,684.6h0M1254.4,683.5h0M1254.5,682.5h0M1257.8,683.4h0M1255.6,681.1h0M1257.9,681.6h0M1258.3,680.8h0M1258.8,680.1h0M1257.7,678.5h0M1257.9,677.6h0M1259.7,677.7h0M1261.4,677.8h0M1259.8,675.8h0M1259.7,674.8h0M1261.1,674.7h0M1260.5,673.3h0M1261.4,672.9h0M1263.2,673h0M1262,671.3h0M1263.1,671h0M1264.2,670.7h0M1263,669h0M1263.4,668.2h0M1266.6,669.3h0M1266.8,668.4h0M1267.3,667.7h0M1266.6,666.3h0M1266.9,665.5h0M1266,663.9h0M1266.8,663.5h0M1266.9,662.5h0M1268.7,662.7h0M1268.8,661.8h0M1268.4,660.5h0M1268.6,659.6h0M1270.7,660h0M1269.7,658.3h0M1269.7,657.3h0M1270.9,657.1h0M1273.3,657.7h0M1273.3,656.7h0M1273.3,655.7h0M1272.8,654.3h0M1274,654.2h0M1273,652.5h0M1274.5,652.5h0M1275.5,652.1h0M1274.6,650.6h0M1276.7,651h0M1276.7,650h0M1275.9,648.4h0M1276.7,647.9h0M1278.3,648h0M1280.1,648.2h0M1277.8,645.6h0M1279.9,646h0M1279.4,644.7h0M1280.3,644.3h0M1282.5,644.8h0M1282,643.4h0M1281.3,642h0M1282.3,641.6h0M1284.5,642.1h0M1284.6,641.2h0M1283.6,639.5h0M1284.4,639h0M1284.7,638.2h0M1284.1,636.8h0M1287.3,637.9h0M1285.3,635.6h0M1285.7,634.9h0M1285.8,633.9h0M1289.1,635.1h0M1289.4,634.3h0M1289,633h0M1289.1,632.1h0M1289.7,631.5h0M1289.5,630.3h0M1291.7,630.8h0M1291,629.4h0M1292.5,629.3h0M1292.4,628.3h0M1292.8,627.6h0M1293.3,626.9h0M1294.2,626.5h0M1294.8,625.9h0M1294.9,625h0M1294.2,623.4h0M1294.6,622.6h0M1294.9,621.8h0M1297.5,622.7h0M1296.8,621.2h0M1295.8,619.3h0M1298.2,620.1h0M1299.5,620.1h0M1300.2,619.6h0M1300.8,619h0M1301.1,618.1h0M1299.4,615.8h0M1301,615.9h0M1302.1,615.7h0M1302.4,614.9h0M1302,613.6h0M1301.5,612.1h0M1304.7,613.5h0M1304.8,612.6h0M1305.6,612.1h0M1304.6,610.3h0M1304.7,609.3h0M1307.1,610.1h0M1307,609h0M1307.5,608.3h0M1306,606.1h0M1306.8,605.7h0M1309.4,606.6h0M1310.3,606.2h0M1309.1,604.3h0M1311.2,604.9h0M1309.6,602.5h0M1311.3,602.9h0M1311.4,601.7h0M1312.5,601.8h0M1312.4,600.2h0M1313.5,600.3h0M1314.4,600h0M1315.3,599.9h0M1315.1,598.2h0M1316.7,599h0M1316.5,597.3h0M1318.9,599.2h0M1317.9,596.4h0M1318.2,595.5h0M1319.3,595.5h0M1320.7,595.9h0M1321.1,595.1h0M1322.2,595.3h0M1321.6,593h0M1323,593.5h0M1324,593.4h0M1325.7,594.3h0M1326.2,593.5h0M1326.1,592h0M1326.1,590.6h0M1326.4,589.5h0M1328.2,590.7h0M1328.8,590h0M1329.2,589.2h0M1330.5,589.5h0M1330.5,588.2h0M1332,588.7h0M1331.5,586.6h0M1332.2,586.3h0M1334.3,587.7h0M1334.2,586.2h0M1335.7,586.9h0M1334.5,583.5h0M1337.1,585.9h0M1335.8,582.6h0M1338.1,584.4h0M1338.4,583.4h0M1338.1,581.4h0M1339.2,581.6h0M1340.3,581.7h0M1341.1,581.5h0M1341.7,580.8h0M1341.4,578.8h0M1344.2,581.6h0M1343.5,579h0M1345,579.7h0M1346.1,580h0M1346.9,579.7h0M1345.9,576.6h0M1348.2,578.5h0M1348,576.7h0M1349,576.8h0M1348.8,574.9h0M1349.7,573.9h0M1350.9,575.7h0M1351.6,577.1h0M1352.6,575.2h0M1353.2,577.4h0M1354.2,576.5h0M1355.2,573.8h0M1355.7,577.5h0M1356.9,574.3h0M1357.7,574.9h0M1358.4,576.3h0M1359.1,577.9h0M1360.2,574.7h0M1361,575.4h0M1361.9,574.5h0M1362.7,574.7h0M1363.4,576.2h0M1364.2,576.9h0M1365.1,576.7h0M1366.1,574.8h0M1366.9,576.5h0M1367.4,577.3h0M1366.4,579.3h0M1368.9,578.3h0M1368.4,579.7h0M1369.4,580h0M1369,581.4h0M1370.1,581.6h0M1369.3,583.3h0M1371,583h0M1372.6,582.8h0M1372.8,583.7h0M1371.9,585.5h0M1374.1,584.8h0M1372.7,587h0M1374.9,586.3h0M1373.7,588.4h0M1377,586.7h0M1375.3,589.2h0M1377,588.9h0M1378.3,588.8h0M1377.7,590.6h0M1379.7,588.8h0M1380.1,589.8h0M1379.4,592.9h0M1380.9,591.9h0M1382,591.5h0M1383.2,591.1h0M1383.9,591.5h0M1384.5,592.2h0M1384.7,593.6h0M1386.4,592.1h0M1386.8,593.2h0M1387,594.6h0M1386.6,597h0M1387.4,597.4h0M1388,598.1h0M1390.4,595.3h0M1391.4,595.2h0M1390.4,598.9h0M1391.5,598.6h0M1393.3,596.9h0M1393.6,598.2h0M1393.2,600.8h0M1394.1,600.7h0M1394.6,601.7h0M1396.4,600h0M1397.6,598.8h0M1398,600.7h0M1398.8,598.4h0M1399.6,598.4h0M1400.5,598.2h0M1401.3,599.1h0M1402.2,598.6h0M1403,599.1h0M1403.8,601.5h0M1404.7,601.4h0M1405.5,597.8h0M1406.3,602.5h0M1407.2,602.3h0M1407.3,602.9h0M1409.6,599.6h0M1408.4,602.4h0M1409.7,602.2h0M1409.8,603.4h0M1409.7,604.8h0M1413.4,601.8h0M1411.2,605.7h0M1411.7,606.3h0M1413.2,605.9h0M1414.7,605.4h0M1414.8,606.5h0M1417,605.3h0M1415.3,608.6h0M1416.7,608.2h0M1417.2,608.9h0M1417.3,610.1h0M1420.4,607.8h0M1421.2,608.1h0M1421.6,609h0M1422.3,609.4h0M1420.1,613.3h0M1423.4,610.7h0M1423,612.4h0M1422.5,614.2h0M1424.8,612.9h0M1422.7,616.5h0M1423.3,617.1h0M1426.1,615.2h0M1426,616.7h0M1425.8,618.2h0M1425.3,619.4h0M1427,618.7h0M1428.7,618.6h0M1431.4,618.1h0M1428.4,620.7h0M1428.7,621.5h0M1428.9,622.3h0M1431.2,622h0M1428.6,624.3h0M1430.6,624.2h0M1432.2,624.3h0M1433.4,624.6h0M1435.1,624.7h0M1431.4,627.6h0M1434.2,627.1h0M1431.3,629.5h0M1434.9,628.6h0M1435.4,629.3h0M1432.9,631.5h0M1435.7,631h0M1432.4,633.6h0M1435.4,633.1h0M1433.7,635.2h0M1438.8,632.7h0M1439.8,633.1h0M1440.4,633.6h0M1436,637.8h0M1438.8,636.9h0M1437.8,638.6h0M1439.4,638.4h0M1437.3,640.9h0M1438.7,641h0M1441.2,640.3h0M1443.4,639.7h0M1442.7,641.3h0M1443.1,642h0M1443.8,642.5h0M1442.2,644.7h0M1441.9,645.9h0M1442.4,646.6h0M1446.7,644.5h0M1447.4,645.1h0M1444.8,647.9h0M1444.9,648.9h0M1445.1,649.8h0M1444.8,651h0M1448.8,649.2h0M1450.9,648.7h0M1449.6,650.7h0M1450.3,651.2h0M1452.2,651h0M1449,654h0M1450.4,654.2h0M1450.1,655.3h0M1448.7,656.9h0M1451.1,656.6h0M1449.3,658.5h0M1450.2,658.9h0M1452.6,658.7h0M1452.3,659.8h0M1453.7,660h0M1454.7,660.4h0M1452.6,662.4h0M1453.9,662.7h0M1456,662.6h0M1454.3,664.4h0M1455.5,664.7h0M1458.9,663.9h0M1454.8,667h0M1456.9,666.8h0M1454.2,669.1h0M1454.7,669.8h0M1460.8,667.6h0M1460.1,668.9h0M1457.3,671.3h0M1461.3,670.2h0M1457.1,673.2h0M1458.6,673.4h0M1456.9,675.2h0M1461.8,673.7h0M1459.5,675.5h0M1460.3,676h0M1459.8,676.8h0M1457.6,677.9h0M1462.7,678.2h0M1463.8,678.9h0M1459.1,680.3h0M1464.7,680.5h0M1461.4,681.7h0M1458.3,682.9h0M1459.1,683.7h0M1460.5,684.3h0M1466.4,684.5h0M1458.2,686.3h0M1462.9,686.6h0M1464.4,687.2h0M1466.4,687.8h0M1465.8,688.8h0M1466.8,689.5h0M1462.4,690.8h0M1464.1,691.5h0M1465,692.2h0M1460.4,693.6h0M1467.1,693.7h0M1464.1,694.8h0M1460.8,696.1h0M1460.7,696.9h0M1461.9,697.6h0M1463.6,698.3h0M1467,698.7h0M1465,699.8h0M1462.1,701h0M1461.7,701.9h0M1463.3,702.5h0M1460.9,703.6h0M1463.9,704.1h0M1461.5,705.3h0M1461.1,706.2h0M1467.8,706.1h0M1468.1,706.9h0M1460.7,708.8h0M1467,708.8h0M1465.8,709.8h0M1466.1,710.6h0M1462.4,711.9h0M1470,711.7h0M1465.9,713.1h0M1466.2,713.9h0M1469.6,714.3h0M1466.6,715.6h0M1462.9,716.9h0M1470.4,716.7h0M1468.7,717.8h0M1465.6,719.1h0M1466.3,719.8h0M1464.5,720.9h0M1468.4,721.2h0M1470.4,721.8h0M1468.3,722.9h0M1464.4,724.3h0M1468,724.7h0M1468.5,725.4h0M1465.1,726.8h0M1467,727.3h0M1471.1,727.6h0M1469.1,728.7h0M1464.5,730.2h0M1472.4,729.9h0M1466,731.7h0M1470.2,731.9h0M1466.4,733.3h0M1471.7,733.4h0M1467.4,734.9h0M1465.7,736h0M1472.9,735.8h0M1465.1,737.7h0M1472.8,737.5h0M1473.7,737.7h0M1467,740.6h0M1469.9,740.4h0M1474.2,739.6h0M1469.4,742.4h0M1470.9,742.7h0M1467.1,745.1h0M1467.6,745.8h0M1468.7,746.3h0M1472,745.9h0M1469.8,747.6h0M1470.8,748.1h0M1475,747.4h0M1471.4,749.7h0M1475.4,749h0M1474.7,750.2h0M1477.9,749.8h0M1477.7,750.8h0M1475,752.8h0M1472.5,754.7h0M1473.1,755.3h0M1478.8,754h0M1475.8,756h0M1478.1,756h0M1479.3,756.5h0M1478.3,757.8h0M1475.9,759.6h0M1474.2,761.2h0M1481.4,759.2h0M1480.1,760.6h0M1476.6,762.9h0M1479,762.9h0M1480.2,763.3h0M1477.1,765.4h0M1483.9,763.6h0M1476.5,767.5h0M1482.4,765.9h0M1478.2,769h0M1478.7,769.7h0M1479.1,770.4h0M1481.2,770.2h0M1481.4,771.1h0M1486.5,769.2h0M1484,771.5h0M1482.8,773.1h0M1486,772.3h0M1483.2,774.9h0M1484.6,775h0M1484.1,776.3h0M1483,777.8h0M1487.5,776.3h0M1485.7,778.3h0M1490.6,776.5h0M1485.1,780.5h0M1390,595.7h0M1384.3,590.3h0M1375.5,593.4h0M1360.1,584.2h0M1368.8,571.2h0M1386.9,598.6h0M1389.5,605.3h0M1356.3,570.6h0M1372.8,598.3h0M1385.4,592.9h0M1364,574.3h0M1355,573.7h0M1368.9,580.9h0M1360.9,570.1h0M1361.9,585.3h0M1388.5,602.7h0M1369.1,598.7h0M1378.3,592.9h0M1382.7,593.3h0M1387.5,605.2h0M1360.4,577.8h0M1389.5,605.1h0M1376.2,584.3h0M1375.3,572.1h0M1379.6,577.2h0M1373.7,574.2h0M1368.1,578.7h0M1384.9,599.3h0M1386.3,594.9h0M1386.9,605.6h0M1364.5,578.4h0M1383.1,600.2h0M1378.4,577h0M1356.8,581h0M1354.3,576.6h0M1388.6,603.9h0M1374.4,595.7h0M1391.2,604.6h0M1374.1,579.4h0M1369.1,573.6h0M1370.5,585.4h0M1390,596.3h0M1379.4,603.1h0M1355.2,570h0M1392.1,597.7h0M1364.2,571.8h0M1355.5,580.2h0M1360.8,576.8h0M1386.8,602.8h0M1367.5,592.5h0M1367.6,598h0M1362.7,592.2h0M1359.7,573h0M1389.2,593.2h0M1378.6,582.5h0M1369.6,568.7h0M1366,598.5h0M1361.7,591.9h0M1369.2,589.2h0M1369.6,591.7h0M1386.5,596.3h0M1369.8,600h0M1386.3,605.5h0M1381.9,603.6h0M1380.9,599h0M1375.1,596.7h0M1373.9,571h0M1361.7,572.1h0M1368.3,583.6h0M1361.4,573.5h0M1375,571.2h0M1358.4,571.7h0M1391.5,601.1h0M1375.7,583.3h0M1379.3,593.3h0M1394.1,606.8h0M1371.4,599.4h0M1355.9,576.7h0M1375.6,597.8h0M1354,583.5h0M1390.3,607.9h0M1370.6,594.9h0M1367.9,580.6h0M1373.9,570.4h0M1368.7,591.4h0M1375.8,600h0M1371.7,586.1h0M1357.8,570.3h0M1357.5,572.2h0M1356,583.4h0M1382.9,596.9h0M1367,598.3h0M1381.2,593h0M1367.9,598.9h0M1352.4,571.5h0M1368.1,599.8h0M1386.3,600.5h0M1361,581.2h0M1382.6,600.4h0M1379.2,574.1h0M1391,598.2h0M1381.6,579.2h0M1383,596h0M1375.4,596h0M1388.9,604.3h0M1392.2,606.8h0M1362.6,568.4h0M1372.9,571.7h0M1358.3,585.4h0M1384.1,590.5h0M1391.4,601.5h0M1392.9,607.7h0M1376.2,589.8h0M1380.6,604.6h0M1368.4,583.8h0M1353.5,577.7h0M1359.7,585.7h0M1373.2,582.9h0M1373.2,592.2h0M1368.1,599.1h0M1382.2,599.5h0M1375.3,569.8h0M1382.3,596.9h0M1361.7,571.6h0M1386.9,605.5h0M1367.3,570.8h0M1381.4,602h0M1364.7,597.5h0M1385.2,599.2h0M1370.4,568.5h0M1368.9,598.6h0M1372.6,575.6h0M1361.8,578.8h0M1395,600.3h0M1389.1,602.2h0M1366,583.1h0M1392,598.4h0M1354.1,575.2h0M1353.3,571.7h0M1378.5,583.3h0M1419.7,601.9h0M1425,616.1h0M1423.9,621.3h0M1409.1,594.2h0M1433.8,622.8h0M1421.6,612.3h0M1406.2,605.1h0M1422.3,606.1h0M1405.7,599h0M1419,607.1h0M1435.9,630.6h0M1420.6,598.7h0M1412,592.8h0M1424.5,607.9h0M1424.2,606.7h0M1406.3,593.8h0M1421.7,614.2h0M1421.9,599.7h0M1403.5,596h0M1410.9,604.1h0M1409.9,604.4h0M1409.6,605h0M1415,612.7h0M1434.7,630.5h0M1427.1,611.1h0M1422.7,620.5h0M1410.1,610.4h0M1412.5,597.7h0M1424.1,624.8h0M1429.8,629.3h0M1406.8,597.8h0M1420.5,609.8h0M1426.6,610.5h0M1409.1,595.4h0M1427.9,617.7h0M1413.2,608.2h0M1418.3,602.5h0M1403.7,600.2h0M1420.8,612.3h0M1417.6,597.2h0M1421,603.3h0M1431,627h0M1424.2,611.3h0M1405.8,600.4h0M1414,607.8h0M1421.6,624.8h0M1428.1,628.3h0M1413.6,611h0M1415.8,599.9h0M1428.6,622.6h0M1434,619.4h0M1408.5,603.4h0M1422.4,604.1h0M1431.6,613.5h0M1434.1,617.1h0M1421.4,613.1h0M1407.6,606.5h0M1432.9,620.3h0M1428.4,609.2h0M1424.9,622.2h0M1415.5,595.4h0M1417.8,618.8h0M1427.5,625.5h0M1424.3,608.7h0M1430.4,620.4h0M1413.6,610.2h0M1412.5,604.8h0M1401,602.6h0M1425.7,614.6h0M1412.5,605.4h0M1407,594.9h0M1434.1,620.7h0M1405.4,595.1h0M1419,619.1h0M1401.7,603.1h0M1419.8,620.3h0M1425.2,619.6h0M1403.2,594.1h0M1424.2,608h0M1429.8,609.3h0M1424.9,614.8h0M1410.3,600.6h0M1416.7,613.4h0M1417.1,607.2h0M1430.2,614.4h0M1414.2,614.1h0M1406,603.6h0M1430.6,631.5h0M1428,620h0M1409.2,605.4h0M1465.3,712.6h0M1465.6,692.9h0M1461.9,702.5h0M1456.5,675h0M1455.5,680.1h0M1455.2,672.1h0M1457.8,675h0M1464.8,698.9h0M1459.8,685.6h0M1454.9,678.5h0M1459.6,690.1h0M1453.2,669.6h0M1458.7,683.7h0M1455.7,678.4h0M1458,701.1h0M1456.5,671.8h0M1462.2,683.5h0M1466.2,696.9h0M1465.3,694.1h0M1463.2,710.8h0M1454.3,670.9h0M1460.9,689.9h0M1460.1,683.8h0M1456,679.8h0M1459.8,702.9h0M1461.7,704.4h0M1457.4,673.7h0M1460.1,686.2h0M1461.1,705.6h0M1459.5,674.7h0M1467.4,710.1h0M1465.7,708.5h0M1461.3,675.3h0M1460.4,702h0M1463.7,694.4h0M1461.4,692h0M1464.6,698.7h0M1462.8,711.7h0M1453.3,667.2h0M1460.3,688.2h0M1462.7,701h0M1458.4,675.7h0M1461.7,689.4h0M1460.8,675.4h0M1461,709.2h0M1461.2,685.1h0M1465.3,711.3h0M1460.8,678.1h0M1457.2,671.8h0M1462.7,694.5h0" stroke="#1f77b4" stroke-width="7.2" stroke-linecap="round" fill="none"/>
<path d="M1219.5,776.3 1223.3,765.4 1227.2,754.9 1231.1,744.6 1234.9,734.7 1238.8,725.1 1242.7,715.8 1246.5,706.8 1250.4,698.1 1254.3,689.7 1258.1,681.7 1262,673.9 1265.8,666.5 1269.7,659.4 1273.6,652.5 1277.4,646 1281.3,639.8 1285.2,634 1289,628.4 1292.9,623.1 1296.8,618.2 1300.6,613.5 1304.5,609.2 1308.4,605.2 1312.2,601.5 1316.1,598.1 1319.9,595 1323.8,592.2 1327.7,589.8 1331.5,587.6 1335.4,585.8 1339.3,584.3 1343.1,583.1 1347,582.2 1350.9,581.6 1354.7,581.3 1358.6,581.3 1362.5,581.7 1366.3,582.3 1370.2,583.3 1374,584.5 1377.9,586.1 1381.8,588 1385.6,590.2 1389.5,592.8 1393.4,595.6 1397.2,598.7 1401.1,602.2 1405,606 1408.8,610 1412.7,614.4 1416.6,619.1 1420.4,624.1 1424.3,629.5 1428.1,635.1 1432,641 1435.9,647.3 1439.7,653.9 1443.6,660.7 1447.5,667.9 1451.3,675.4 1455.2,683.3 1459.1,691.4 1462.9,699.8 1466.8,708.6 1470.7,717.6 1474.5,727 1478.4,736.7 1482.2,746.7 1486.1,757" stroke="#bcbd22" stroke-width="1.9" fill="none"/>
<line x1="1357.4" x2="1357.4" y1="565.5" y2="780.8" stroke="#d62728" stroke-width="2"/>
<rect x="1206.8" y="555.8" width="293.5" height="237" fill="none" stroke="#333" stroke-width="0.9"/>
<line x1="1225.1" x2="1225.1" y1="792.8" y2="796.8" stroke="#333" stroke-width="0.8"/>
<text x="1225.1" y="809.5" font-size="11.3" text-anchor="middle" fill="#262626">0.0</text>
<line x1="1278.6" x2="1278.6" y1="792.8" y2="796.8" stroke="#333" stroke-width="0.8"/>
<text x="1278.6" y="809.5" font-size="11.3" text-anchor="middle" fill="#262626">0.2</text>
<line x1="1332.2" x2="1332.2" y1="792.8" y2="796.8" stroke="#333" stroke-width="0.8"/>
<text x="1332.2" y="809.5" font-size="11.3" text-anchor="middle" fill="#262626">0.4</text>
<line x1="1385.7" x2="1385.7" y1="792.8" y2="796.8" stroke="#333" stroke-width="0.8"/>
<text x="1385.7" y="809.5" font-size="11.3" text-anchor="middle" fill="#262626">0.6</text>
<line x1="1439.3" x2="1439.3" y1="792.8" y2="796.8" stroke="#333" stroke-width="0.8"/>
<text x="1439.3" y="809.5" font-size="11.3" text-anchor="middle" fill="#262626">0.8</text>
<line x1="1492.8" x2="1492.8" y1="792.8" y2="796.8" stroke="#333" stroke-width="0.8"/>
<text x="1492.8" y="809.5" font-size="11.3" text-anchor="middle" fill="#262626">1.0</text>
<line x1="1202.8" x2="1206.8" y1="767.7" y2="767.7" stroke="#333" stroke-width="0.8"/>
<text x="1199.5" y="771.9" font-size="11.3" text-anchor="end" fill="#262626">0.00</text>
<line x1="1202.8" x2="1206.8" y1="730.7" y2="730.7" stroke="#333" stroke-width="0.8"/>
<text x="1199.5" y="734.9" font-size="11.3" text-anchor="end" fill="#262626">0.05</text>
<line x1="1202.8" x2="1206.8" y1="693.7" y2="693.7" stroke="#333" stroke-width="0.8"/>
<text x="1199.5" y="697.9" font-size="11.3" text-anchor="end" fill="#262626">0.10</text>
<line x1="1202.8" x2="1206.8" y1="656.7" y2="656.7" stroke="#333" stroke-width="0.8"/>
<text x="1199.5" y="660.9" font-size="11.3" text-anchor="end" fill="#262626">0.15</text>
<line x1="1202.8" x2="1206.8" y1="619.7" y2="619.7" stroke="#333" stroke-width="0.8"/>
<text x="1199.5" y="623.9" font-size="11.3" text-anchor="end" fill="#262626">0.20</text>
<line x1="1202.8" x2="1206.8" y1="582.7" y2="582.7" stroke="#333" stroke-width="0.8"/>
<text x="1199.5" y="586.9" font-size="11.3" text-anchor="end" fill="#262626">0.25</text>
<text x="1353" y="550.5" font-size="13.9" text-anchor="middle" fill="#262626">Estimated Optimal Charge:0.49</text>
<text x="1353" y="824.5" font-size="11.3" text-anchor="middle" fill="#262626">Charge</text>
<text transform="translate(1166,675) rotate(-90)" font-size="11.3" text-anchor="middle" fill="#262626">Demand × Charge</text>
<rect x="1213" y="735.6" width="132.7" height="51" rx="2" fill="#fff" fill-opacity="0.8" stroke="#d2d2d2" stroke-width="0.8"/>
<line x1="1217" x2="1240" y1="744" y2="744" stroke="#bcbd22" stroke-width="1.9"/>
<line x1="1217" x2="1240" y1="760" y2="760" stroke="#d62728" stroke-width="1.6"/>
<circle cx="1229" cy="776.5" r="3.7" fill="#1f77b4"/>
<text x="1249.5" y="748" font-size="11.3" fill="#262626">Estimated</text>
<text x="1249.5" y="764.5" font-size="11.3" fill="#262626">Optimal Charge</text>
<text x="1249.5" y="781" font-size="11.3" fill="#262626">Observed</text>
</svg>

<div id="foot">© 2024 Mellon. All Rights Reserved.</div>
<div id="pg">11</div>
</div>
</body>
</html>
